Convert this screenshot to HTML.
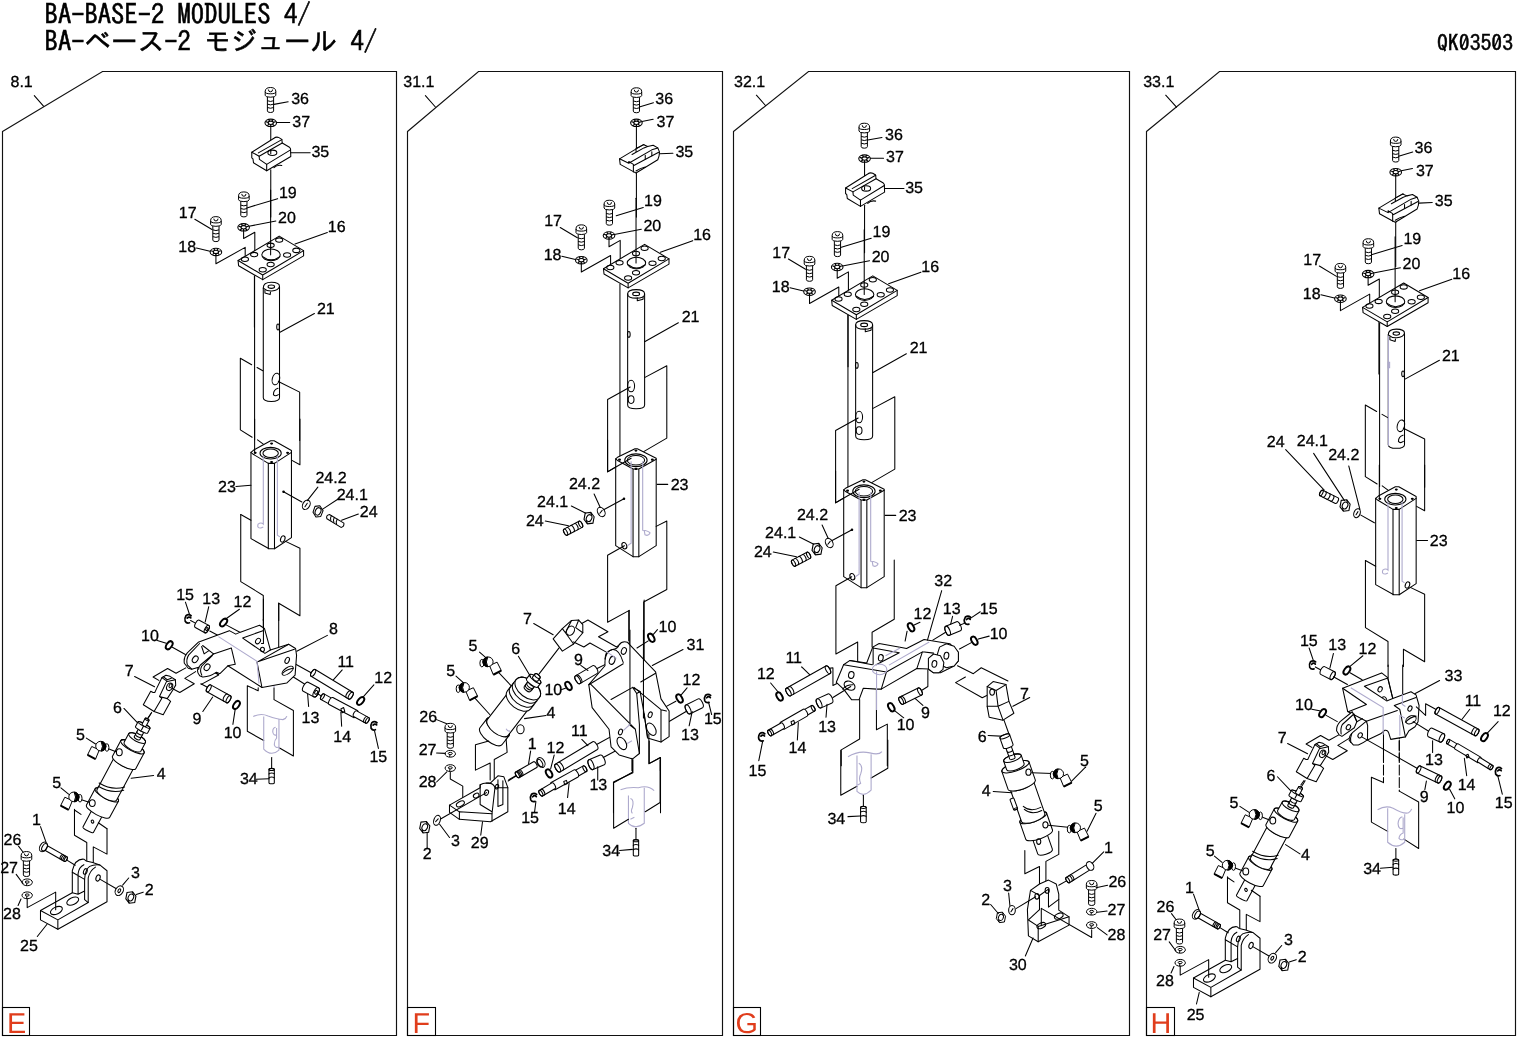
<!DOCTYPE html>
<html><head><meta charset="utf-8"><title>BA-BASE-2 MODULES 4/</title>
<style>
html,body{margin:0;padding:0;background:#fff;}
body{width:1517px;height:1037px;overflow:hidden;position:relative;}
svg{position:absolute;left:0;top:0;will-change:transform;}
.hd{font-family:"IPAGothic","Liberation Mono","Noto Sans CJK JP",monospace;fill:#000;stroke:#000;stroke-width:0.55px;}
.lb{font-family:"Liberation Sans",Arial,sans-serif;font-size:16px;fill:#000;stroke:#000;stroke-width:0.3px;text-rendering:geometricPrecision;}
.lt{font-family:"Liberation Sans",Arial,sans-serif;font-size:28.8px;fill:#e03d1c;text-rendering:geometricPrecision;}
.ln{fill:none;stroke:#000;stroke-width:1.05;stroke-linejoin:round;stroke-linecap:round;}
.z{vector-effect:non-scaling-stroke;}
.pu{fill:none;stroke:#aeaacd;stroke-width:1.1;}
</style></head>
<body>
<svg width="1517" height="1037" viewBox="0 0 1517 1037">

<defs>
<g id="screw" fill="none" stroke="#000" stroke-width="1">
 <path d="M-3.1,9 L-3.1,23 Q-3.1,24.6 0,24.6 Q3.1,24.6 3.1,23 L3.1,9" fill="#fff"/>
 <path d="M-3.1,12.8 Q0,14.3 3.1,12.8 M-3.1,16.2 Q0,17.7 3.1,16.2 M-3.1,19.6 Q0,21.1 3.1,19.6"/>
 <path d="M-5.3,3.6 Q-5.3,-0.4 0,-0.4 Q5.3,-0.4 5.3,3.6 L5.3,7.4 Q5.3,9.3 0,9.3 Q-5.3,9.3 -5.3,7.4 Z" fill="#fff"/>
 <path d="M-5.3,3.8 Q-5.3,5.9 0,5.9 Q5.3,5.9 5.3,3.8"/>
 <path d="M-2.1,1.6 Q-2.1,3.9 0,3.9 Q2.1,3.9 2.1,1.6"/>
</g>
<g id="wash" fill="none" stroke="#000" stroke-width="1.1">
 <ellipse rx="5.8" ry="3.7" fill="#fff"/>
 <ellipse rx="2.6" ry="1.7"/>
 <path d="M-5,-1.2 L-2.4,-0.4 M5,-1.2 L2.4,-0.4 M-2.2,-3.4 L-1,-1.5 M2.2,-3.4 L1,-1.5 M-3.4,2.7 L-1.7,1.2 M3.4,2.7 L1.7,1.2 M0,3.6 L0,1.8"/>
</g>

<g id="eclip" fill="none" stroke="#000" stroke-width="1.7" stroke-linecap="round">
 <path d="M3.1,-3.2 Q0.6,-5.3 -2,-3.3 Q-3.8,-0.6 -2.8,2.3 Q-1.3,4.8 1.5,3.8 M-0.8,-0.8 Q1,-2.8 2.8,-1"/>
</g>
<g id="ring" fill="none" stroke="#000" stroke-width="2">
 <ellipse rx="2.6" ry="4.5"/>
</g>
<g id="hexnut" fill="#fff" stroke="#000" stroke-width="1">
 <path d="M-3.5,-4.6 L1.5,-5.2 L4.6,-1.2 L3.5,4.6 L-1.5,5.2 L-4.6,1.2 Z"/>
 <ellipse rx="2.4" ry="3.2" transform="rotate(25)"/>
 <path d="M-1.5,5.2 L-2.4,2.6 M1.5,-5.2 L2.2,-2.8" fill="none"/>
</g>
<g id="wash2" fill="none" stroke="#000" stroke-width="1">
 <ellipse rx="5.2" ry="3.4" fill="#fff"/>
 <ellipse cx="0" cy="-0.3" rx="2" ry="1.1"/>
 <path d="M-0.3,0.8 L-0.6,3.2"/>
</g>
<g id="elbow" fill="#fff" stroke="#000" stroke-width="1">
 <path d="M-9.8,0.2 L-2.2,3.6 L-6,12.8 L-14,8.6 Z"/>
 <path d="M-14,8.6 L-6,12.8" stroke-width="2"/>
 <ellipse cx="5.4" cy="1.2" rx="2" ry="3.8"/>
 <ellipse cx="-0.8" cy="-0.2" rx="5" ry="4.8"/>
 <path d="M-0.5,-4.9 Q3.8,-4.6 4.6,0 Q3.8,4.6 -0.5,4.9 Q2.4,0 -0.5,-4.9 Z" fill="#000"/>
</g>
</defs>

<!-- header -->
<text class="hd" x="44.6" y="23.7" font-size="26.6">BA-BASE-2 MODULES 4/</text>
<text class="hd" x="44.6" y="51.1" font-size="26.6">BA-ベース-2 モジュール 4/</text>
<text class="hd" x="1513" y="51" font-size="21.7" text-anchor="end">QK03503</text>

<!-- panel borders -->
<g fill="none" stroke="#111" stroke-width="1.15">
<path d="M2.5 131.5 L102.5 71.5 H396.5 V1035.5 H2.5 Z"/>
<path d="M407.5 131.5 L478.5 71.5 H722.5 V1035.5 H407.5 Z"/>
<path d="M733.5 131.5 L808.5 71.5 H1129.5 V1035.5 H733.5 Z"/>
<path d="M1146.5 131.5 L1219.5 71.5 H1515.5 V1035.5 H1146.5 Z"/>
</g>
<!-- letter boxes -->
<g fill="none" stroke="#000" stroke-width="1.1">
<rect x="2.5" y="1007.5" width="27" height="28"/>
<rect x="407.5" y="1007.5" width="28" height="28"/>
<rect x="733.5" y="1007.5" width="27" height="28"/>
<rect x="1146.5" y="1007.5" width="28" height="28"/>
</g>
<text class="lt" x="7" y="1033">E</text>
<text class="lt" x="412.5" y="1033">F</text>
<text class="lt" x="735.5" y="1033">G</text>
<text class="lt" x="1150.5" y="1033">H</text>

<!-- panel reference labels -->
<text class="lb" x="10.5" y="87">8.1</text>
<text class="lb" x="403.3" y="87">31.1</text>
<text class="lb" x="734" y="87.3">32.1</text>
<text class="lb" x="1143.2" y="87.3">33.1</text>
<path class="ln" d="M34.3 95.6 L43.5 106.1 M425.4 95.6 L435.4 107 M756.4 95.2 L765.5 105.5 M1165.7 95.2 L1176.5 107.1"/>

<use href="#screw" transform="translate(270.5 87.91)"/>
<text class="lb" x="291.23" y="104.03">36</text>
<path class="ln" d="M 273.93,104.39 L 288.17,101.75"/>
<use href="#wash" transform="translate(270.76 122.85)"/>
<text class="lb" x="292.28" y="126.71">37</text>
<path class="ln" d="M 276.83,122.45 L 289.75,122.45"/>
<path class="ln" d="M 270.76,126.14 L 270.76,153.83"/>
<path class="ln" style="fill:#fff" d="M 251.78,152.25 L 273.93,138.27 Q 276.3,136.43 278.94,137.61 L 281.84,139.33 L 282.23,143.02 L 289.49,147.24 L 290.54,148.82 L 290.8,156.47 L 266.68,170.71 L 253.49,162.79 L 252.97,158.84 L 251.78,157.79 Z"/>
<path class="ln" d="M 251.78,152.25 L 259.16,156.2 L 259.43,159.37 L 266.68,164.38 L 290.54,149.87"/>
<path class="ln" d="M 259.16,156.2 L 282.23,143.02 M 258.37,152.91 L 281.84,139.59 M 266.68,164.38 L 266.68,170.71"/>
<ellipse class="ln" cx="272.35" cy="152.78" rx="4.48" ry="2.64"/>
<path class="ln" d="M 270.76,151.19 L 270.76,153.83"/>
<path class="ln" d="M 273.93,167.67 Q 277.22,164.38 281.84,165.43"/>
<text class="lb" x="311.4" y="157.43">35</text>
<path class="ln" d="M 290.8,152.78 L 310.18,152.78"/>
<path class="ln" d="M 270.76,169.65 L 270.76,217.11"/>
<use href="#screw" transform="translate(215.92 217.03)"/>
<text class="lb" x="178.77" y="217.99">17</text>
<path class="ln" d="M 194.83,219.27 L 211.96,229.55"/>
<use href="#wash" transform="translate(215.92 251.96)"/>
<text class="lb" x="178.24" y="252">18</text>
<path class="ln" d="M 196.41,248.01 L 209.99,251.31"/>
<path class="ln" d="M 215.92,254.86 L 215.92,263.83 L 245.19,247.35 L 245.19,258.56"/>
<use href="#wash" transform="translate(243.61 227.31)"/>
<text class="lb" x="278.04" y="222.6">20</text>
<path class="ln" d="M 248.88,226.26 L 275.91,220.98"/>
<path class="ln" d="M 243.61,230.21 L 243.61,238.52 L 254.81,232.19 L 254.81,253.02"/>
<path class="ln" style="fill:#fff" d="M 238.07,260.53 L 279.2,236.14 L 303.59,250.65 L 303.59,255.92 L 262.72,279.65 L 238.6,265.81 Z"/>
<path class="ln" d="M 238.07,260.53 L 262.72,275.04 L 303.59,250.65 M 262.72,275.04 L 262.72,279.65"/>
<ellipse class="ln" cx="244.92" cy="259.22" rx="3.56" ry="2.24"/>
<ellipse class="ln" cx="254.15" cy="254.6" rx="3.56" ry="2.24"/>
<ellipse class="ln" cx="270.63" cy="245.37" rx="3.56" ry="2.24"/>
<ellipse class="ln" cx="279.2" cy="240.1" rx="3.56" ry="2.24"/>
<ellipse class="ln" cx="296.34" cy="250.38" rx="3.56" ry="2.24"/>
<ellipse class="ln" cx="287.11" cy="255" rx="3.56" ry="2.24"/>
<ellipse class="ln" cx="270.63" cy="264.49" rx="3.56" ry="2.24"/>
<ellipse class="ln" cx="262.72" cy="269.76" rx="3.56" ry="2.24"/>
<ellipse class="ln" cx="271.03" cy="254.86" rx="9.23" ry="5.8"/>
<path class="ln" d="M 262.72,256.58 Q 271.03,263.17 279.86,256.58"/>
<path class="ln" d="M 270.63,190 L 270.63,254.86"/>
<text class="lb" x="327.75" y="231.83">16</text>
<path class="ln" d="M 295.02,244.05 L 327.32,232.45"/>
<use href="#screw" transform="translate(243.87 192.32)"/>
<text class="lb" x="278.97" y="197.63">19</text>
<path class="ln" d="M 246.9,207.88 L 277.62,198.65"/>
<path class="ln" d="M 254.42,275.7 L 254.42,327.11"/>
<path class="ln" d="M 254.59,276.56 L 254.59,439.67"/>
<path class="ln" style="fill:#fff" d="M 263.28,288.03 Q 263.28,282.3 271.31,282.3 Q 279.51,282.3 279.51,286.39 L 279.51,397.87 Q 279.51,401.48 271.31,401.48 Q 263.28,401.48 263.28,397.87 Z"/>
<ellipse class="ln" cx="271.31" cy="286.72" rx="3.28" ry="1.64"/>
<path class="ln" d="M 263.28,288.03 Q 266.89,291.31 271.8,290.98 Q 278.36,290.49 279.51,286.39"/>
<path class="ln" d="M 264.92,290 L 264.92,292.95 L 270.16,294.59 L 270.49,292.13"/>
<ellipse class="ln" cx="278.03" cy="327.05" rx="1.31" ry="2.95"/>
<ellipse class="ln" cx="275.9" cy="379.02" rx="3.61" ry="5.9" transform="rotate(15 275.9 379.02)"/>
<path class="ln" d="M 278.03,388.36 Q 273.44,389.67 273.44,394.59 Q 275.08,397.05 278.36,394.59"/>
<text class="lb" x="316.88" y="314.23">21</text>
<path class="ln" d="M 280,332.3 L 314.43,313.44"/>
<path class="ln" d="M 251.64,364.75 L 240.33,358.2 L 240.33,429.84 L 252.13,437.21"/>
<path class="ln" d="M 257.05,367.54 L 262.79,370.82"/>
<path class="ln" d="M 278.36,381.48 L 299.67,392.13 L 299.67,440.49"/>
<path class="ln" d="M 257.52,439.86 L 263.3,444.1"/>
<path class="ln" d="M 299.94,419.04 L 299.94,464.74 L 291.45,460.11"/>
<path class="ln" style="fill:#fff" d="M 250.96,452.39 L 253.66,450.08 L 270.63,440.83 L 274.1,440.83 L 291.45,450.47 L 291.45,537.62 L 274.49,548.81 L 269.09,548.81 L 250.96,538.59 Z"/>
<path class="ln" d="M 250.96,452.39 L 253.27,454.32 L 268.31,463.39 L 274.49,463.39 L 291.45,452.39"/>
<path class="ln" d="M 268.31,463.39 L 268.31,548.81 M 274.49,463.39 L 274.49,548.81"/>
<ellipse class="ln" cx="270.63" cy="453.17" rx="10.61" ry="5.78"/>
<ellipse class="ln" cx="270.63" cy="453.17" rx="7.71" ry="4.24"/>
<ellipse class="ln" style="fill:#000" cx="255.2" cy="452.78" rx="0.96" ry="0.58"/>
<ellipse class="ln" style="fill:#000" cx="271.59" cy="443.52" rx="0.96" ry="0.58"/>
<ellipse class="ln" style="fill:#000" cx="287.6" cy="452.78" rx="0.96" ry="0.58"/>
<ellipse class="ln" style="fill:#000" cx="271.59" cy="462.04" rx="0.96" ry="0.58"/>
<ellipse class="ln" cx="282.78" cy="538.97" rx="2.12" ry="3.28" transform="rotate(20 282.78 538.97)"/>
<path class="pu" d="M 263.3,455.67 L 263.3,524.13 Q 260.99,521.81 258.09,524.13 Q 256.75,528.37 260.99,527.98 L 263.3,527.02"/>
<path class="pu" d="M 277.38,455.67 L 277.38,535.31 L 279.88,536.85"/>
<path class="ln" d="M 254.62,419.04 L 254.62,452.78"/>
<path class="ln" d="M 240.74,514.49 L 250.96,520.27"/>
<path class="ln" d="M 240.74,514.49 L 240.74,581.59 L 263.3,595.47 L 263.3,620.54"/>
<path class="ln" d="M 285.09,541.1 L 299.94,548.23 L 299.94,615.72 L 278.73,603.19 L 278.73,620.54"/>
<text class="lb" x="218.07" y="492.03">23</text>
<path class="ln" d="M 235.92,486.53 L 250.96,485.18"/>
<ellipse class="ln" style="fill:#000" cx="283.55" cy="491.73" rx="0.77" ry="0.77"/>
<path class="ln" d="M 283.55,491.73 L 301.87,501.95"/>
<ellipse class="ln" cx="306.3" cy="504.84" rx="3.47" ry="5.01" transform="rotate(30 306.3 504.84)"/>
<path class="ln" d="M 304.95,506.77 L 307.27,503.3"/>
<text class="lb" x="315.44" y="482.97">24.2</text>
<path class="ln" d="M 307.27,500.6 L 317.87,487.1"/>
<path class="ln" style="fill:#fff" d="M 314.98,506.39 L 319.8,505.81 L 323.08,510.63 L 320.76,516.41 L 315.94,516.99 L 313.05,512.17 Z"/>
<ellipse class="ln" cx="318.06" cy="511.4" rx="2.7" ry="3.86" transform="rotate(25 318.06 511.4)"/>
<text class="lb" x="336.65" y="499.94">24.1</text>
<path class="ln" d="M 322.69,509.09 L 338.12,499.06"/>
<path class="ln" style="fill:#fff" d="M 329.44,514.49 L 343.9,523.16 Q 344.29,527.02 341.01,527.4 L 326.93,518.73 Q 325.58,515.45 329.44,514.49 Z"/>
<path class="ln" d="M 331.37,515.64 Q 329.83,518.34 330.79,520.27 M 334.26,517.38 Q 332.72,520.27 333.88,522.2 M 337.15,519.31 Q 335.61,522.2 336.58,524.13"/>
<text class="lb" x="359.79" y="516.71">24</text>
<path class="ln" d="M 341.59,520.27 L 358.36,514.1"/>
<path class="ln" d="M 263.34,619.55 L 263.34,631.02"/>
<path class="ln" d="M 278.7,603.14 L 278.7,648.22"/>
<path class="ln" d="M 258.2,687.77 L 258.2,690.74 L 247.32,685.79 L 247.32,731.28 L 263.73,740.57"/>
<path class="ln" d="M 274.02,687.77 L 274.02,699.64 L 293.4,710.51 L 293.4,755.99 L 279.55,748.08"/>
<path class="pu" d="M 253.25,716.44 Q 261.16,712.89 268.08,716.05 Q 276.98,719.41 282.91,719.61 Q 286.28,718.42 286.87,716.05 M 263.73,716.44 L 263.73,749.07 Q 271.25,756.98 278.96,750.06 L 278.96,719.61"/>
<path class="pu" d="M 275.6,727.32 Q 272.43,727.91 272.83,732.26 Q 273.62,736.22 276.98,734.64 M 276.59,727.91 L 276.59,738.2 Q 274.02,740.57 274.41,745.12 Q 275.6,748.48 278.96,747.1 M 218.65,635.37 L 258.2,661.08 M 274.02,668.99 L 274.02,687.77 M 274.02,668.99 L 278.96,672.94"/>
<path class="ln" d="M 271.64,757.58 L 271.64,768.85"/>
<path class="ln" style="fill:#fff" d="M268.97,769.44 L268.97,782.69 A1.07,2.67 90 0 0 274.31,782.69 L274.31,769.44 A1.07,2.67 90 0 0 268.97,769.44 Z"/>
<ellipse class="ln" cx="271.64" cy="769.44" rx="1.07" ry="2.67" transform="rotate(90 271.64 769.44)"/>
<path class="ln" d="M268.97,774.08 A1.07,2.67 90 0 1 274.31,774.08"/>
<path class="ln" d="M268.97,778.05 A1.07,2.67 90 0 1 274.31,778.05"/>
<text class="lb" x="239.9" y="783.98">34</text>
<path class="ln" d="M 256.22,779.33 L 269.07,778.73"/>
<use href="#eclip" transform="translate(188 618.96)"/>
<text class="lb" x="176.23" y="600.07">15</text>
<path class="ln" d="M 185.43,602.15 L 189.38,614.01"/>
<path class="ln" d="M 190.57,620.54 L 196.9,623.9"/>
<path class="ln" style="fill:#fff" d="M195.31,627.55 L204.8,632.69 A1.87,4.15 28.44 0 0 208.76,625.39 L199.27,620.25 A1.87,4.15 28.44 0 0 195.31,627.55 Z"/>
<ellipse class="ln" cx="206.78" cy="629.04" rx="1.87" ry="4.15" transform="rotate(28.44 206.78 629.04)"/>
<ellipse class="ln" cx="206.78" cy="629.04" rx="0.99" ry="1.58" transform="rotate(30 206.78 629.04)"/>
<text class="lb" x="202.33" y="603.63">13</text>
<path class="ln" d="M 208.76,606.7 L 205.2,621.92"/>
<path class="ln" d="M 209.75,631.02 L 221.02,636.95"/>
<use href="#ring" transform="translate(223.59 622.52) rotate(40)"/>
<text class="lb" x="233.57" y="606.6">12</text>
<path class="ln" d="M 239.41,609.27 L 224.98,619.55"/>
<path class="ln" d="M 226.56,625.09 L 240.79,632.8"/>
<use href="#ring" transform="translate(169.21 645.26) rotate(35)"/>
<text class="lb" x="141.03" y="640.61">10</text>
<path class="ln" d="M 157.35,640.51 L 166.24,643.28"/>
<path class="ln" d="M 172.37,647.23 L 185.43,654.55"/>
<text class="lb" x="328.89" y="634.09">8</text>
<path class="ln" d="M 296.76,651.19 L 327.41,635.37"/>
<path class="ln" d="M 289.44,660.68 L 311.59,672.94"/>
<path class="ln" style="fill:#fff" d="M311.12,676.32 L348.69,699.06 A1.78,3.95 31.18 0 0 352.79,692.3 L315.22,669.56 A1.78,3.95 31.18 0 0 311.12,676.32 Z"/>
<ellipse class="ln" cx="350.74" cy="695.68" rx="1.78" ry="3.95" transform="rotate(31.18 350.74 695.68)"/>
<ellipse class="ln" cx="313.17" cy="672.94" rx="1.78" ry="3.95" transform="rotate(31.18 313.17 672.94)"/>
<path class="ln" d="M346.44,697.7 A1.78,3.95 31.18 0 1 350.54,690.93"/>
<text class="lb" x="337.39" y="667.31">11</text>
<path class="ln" d="M 342.24,669.97 L 333.34,679.86"/>
<use href="#ring" transform="translate(360.63 701.02) rotate(40)"/>
<text class="lb" x="374.37" y="683.13">12</text>
<path class="ln" d="M 373.88,684.81 L 363,697.07"/>
<path class="ln" d="M 289.44,674.52 L 305.66,684.81"/>
<path class="ln" style="fill:#fff" d="M303.25,691.33 L313.73,696.87 A2.31,5.14 27.85 0 0 318.54,687.77 L308.06,682.24 A2.31,5.14 27.85 0 0 303.25,691.33 Z"/>
<ellipse class="ln" cx="316.14" cy="692.32" rx="2.31" ry="5.14" transform="rotate(27.85 316.14 692.32)"/>
<ellipse class="ln" cx="316.14" cy="692.32" rx="1.38" ry="1.98" transform="rotate(30 316.14 692.32)"/>
<text class="lb" x="301.6" y="723.07">13</text>
<path class="ln" d="M 307.63,694.3 L 308.62,706.56"/>
<path class="ln" d="M 317.52,693.7 L 322.46,696.67"/>
<path class="ln" style="fill:#fff" d="M320.93,699.44 L329.83,704.38 A1.42,3.16 29.05 0 0 332.9,698.85 L324,693.9 A1.42,3.16 29.05 0 0 320.93,699.44 Z"/>
<ellipse class="ln" cx="322.46" cy="696.67" rx="1.42" ry="3.16" transform="rotate(29.05 322.46 696.67)"/>
<path class="ln" style="fill:#fff" d="M329.11,704.51 L353.63,717.56 A1.78,3.95 28.02 0 0 357.35,710.58 L332.83,697.53 A1.78,3.95 28.02 0 0 329.11,704.51 Z"/>
<path class="ln" style="fill:#fff" d="M353.57,716.45 L365.83,723.17 A1.42,3.16 28.74 0 0 368.87,717.63 L356.61,710.9 A1.42,3.16 28.74 0 0 353.57,716.45 Z"/>
<ellipse class="ln" cx="367.35" cy="720.4" rx="1.42" ry="3.16" transform="rotate(28.74 367.35 720.4)"/>
<path class="ln" d="M363.99,722.17 A1.42,3.16 28.74 0 1 367.03,716.62"/>
<path class="ln" d="M 340.85,708.93 L 343.62,707.55 L 344.81,711.5 L 342.04,712.89 Z"/>
<text class="lb" x="333.24" y="742.45">14</text>
<path class="ln" d="M 341.65,726.33 L 340.85,712.09"/>
<use href="#eclip" transform="translate(373.88 725.94)"/>
<text class="lb" x="369.42" y="761.83">15</text>
<path class="ln" d="M 378.43,748.48 L 374.47,730.68"/>
<path class="ln" d="M 210.74,670.57 L 218.65,674.52 M 200.85,683.82 L 208.36,687.77"/>
<path class="ln" style="fill:#fff" d="M206.85,691.83 L226.63,702.71 A1.78,3.95 28.81 0 0 230.44,695.78 L210.67,684.9 A1.78,3.95 28.81 0 0 206.85,691.83 Z"/>
<ellipse class="ln" cx="228.53" cy="699.24" rx="1.78" ry="3.95" transform="rotate(28.81 228.53 699.24)"/>
<ellipse class="ln" cx="208.76" cy="688.36" rx="1.78" ry="3.95" transform="rotate(28.81 208.76 688.36)"/>
<path class="ln" d="M223.66,701.07 A1.78,3.95 28.81 0 1 227.47,694.14"/>
<text class="lb" x="192.44" y="724.26">9</text>
<path class="ln" d="M 202.83,711.5 L 212.72,697.07"/>
<use href="#ring" transform="translate(236.44 704.98) rotate(35)"/>
<text class="lb" x="223.68" y="737.51">10</text>
<path class="ln" d="M 232.89,724.35 L 235.06,710.12"/>
<path class="ln" d="M 201.25,684.41 L 218.65,674.92 L 215.68,672.94"/>
<path class="ln" style="fill:#fff" d="M 143.3,704.69 L 150.72,691.19 L 153.09,692.54 L 154.77,692.54 L 156.8,688.15 L 161.86,677.68 L 165.91,675.32 L 169.97,676.33 L 175.37,679.71 L 175.71,685.11 L 173.34,689.16 L 167.27,698.62 L 170.64,701.32 L 163.21,714.82 L 154.1,711.44 Z"/>
<path class="ln" d="M 159.5,696.59 L 167.27,698.62 M 159.5,696.59 L 166.59,681.4 M 154.1,711.44 L 161.86,698.28 L 159.5,696.59 M 161.86,677.68 L 167.27,681.4 L 175.37,679.71 M 163.21,676.67 L 167.27,679.71 L 171.32,678.36"/>
<ellipse class="ln" cx="169.63" cy="686.8" rx="2.84" ry="3.92" transform="rotate(25 169.63 686.8)"/>
<ellipse class="ln" cx="170.51" cy="685.79" rx="1.35" ry="2.03" transform="rotate(25 170.51 685.79)"/>
<path class="ln" d="M 158.83,680.38 L 153.09,677.01 L 167.6,668.57 L 176.04,673.3 L 185.83,667.89"/>
<path class="ln" d="M 195.62,671.61 L 184.82,678.36 L 194.27,683.76 L 179.76,692.54 L 172.33,688.49"/>
<text class="lb" x="124.81" y="676.21">7</text>
<path class="ln" d="M 134.61,676.5 L 154.58,686.78"/>
<path class="ln" d="M 151.02,713.48 L 147.85,718.03"/>
<path class="ln" style="fill:#fff" d="M 198.18,642.32 L 229.33,630.65 L 235.76,634.11 L 240.4,632.14 L 259.49,625.22 L 264.43,628.48 L 270.37,649.94 L 288.66,644.2 L 295.58,648.45 L 296.57,655.37 L 295.09,675.15 L 286.68,683.06 L 261.96,687.51 L 227.85,665.76 L 219.94,673.67 L 216.47,672.18 Q 209.55,677.13 202.63,676.93 L 199.66,675.65 Q 195.91,671.2 198.68,667.24 L 191.75,669.22 L 188.29,668.23 L 184.34,663.28 Q 183.35,657.35 187.3,652.9 Z"/>
<path class="ln" d="M 242.68,638.07 L 262.95,630.65 M 242.68,638.07 L 264.93,653.4 L 270.37,649.94"/>
<path class="ln" d="M 257.02,662.1 L 288.66,644.2 M 257.02,662.1 L 261.96,687.51 M 258.5,661.5 L 294.39,649.24"/>
<ellipse class="ln" cx="258.01" cy="641.04" rx="2.18" ry="2.97" transform="rotate(35 258.01 641.04)"/>
<ellipse class="ln" cx="262.46" cy="649.44" rx="1.98" ry="2.18"/>
<ellipse class="ln" cx="287.18" cy="660.32" rx="1.98" ry="3.26" transform="rotate(25 287.18 660.32)"/>
<ellipse class="ln" cx="287.67" cy="670.7" rx="6.53" ry="2.97" transform="rotate(-35 287.67 670.7)"/>
<path class="ln" d="M 282.73,673.17 Q 286.68,669.22 293.11,668.23"/>
<path class="ln" d="M 213.51,653.89 L 231.31,647.96 L 235.26,664.27 L 227.85,665.76 M 199.66,643.51 L 188.79,654.88 Q 185.82,659.33 187.3,664.77 L 191.75,669.22"/>
<path class="ln" d="M 213.51,653.89 L 200.16,665.26 Q 198.68,667.24 198.68,669.22 M 212.52,655.37 L 201.64,666.25 Q 199.47,670.7 201.84,675.15"/>
<path class="ln" d="M 201.64,646.47 L 204.11,653.89 L 208.56,650.92 M 202.63,645.49 L 213.51,653.89"/>
<ellipse class="ln" cx="195.22" cy="659.33" rx="2.57" ry="3.56" transform="rotate(35 195.22 659.33)"/>
<ellipse class="ln" cx="207.08" cy="667.24" rx="2.57" ry="3.56" transform="rotate(35 207.08 667.24)"/>
<path class="ln" d="M 263.44,599.01 L 263.44,643.51 L 261.47,643.51"/>
<path class="pu" d="M 218.45,636.59 L 257.02,661.31 L 258.99,683.56"/>
<path class="ln" d="M 151.62,712.41 L 145.49,722.41"/>
<path class="ln" style="fill:#fff" d="M93.41,832.52 L103.32,813.96 A1.19,5.93 -61.89 0 0 92.86,808.37 L82.94,826.93 A1.19,5.93 -61.89 0 0 93.41,832.52 Z"/>
<ellipse class="ln" cx="98.09" cy="811.16" rx="1.19" ry="5.93" transform="rotate(-61.89 98.09 811.16)"/>
<ellipse class="ln" cx="92.51" cy="821.6" rx="1.19" ry="1.58" transform="rotate(-30 92.51 821.6)"/>
<path class="ln" style="fill:#fff" d="M109.72,817.37 L118.39,801.13 A3.96,13.18 -61.89 0 0 95.13,788.71 L86.46,804.95 A3.96,13.18 -61.89 0 0 109.72,817.37 Z"/>
<ellipse class="ln" cx="106.76" cy="794.92" rx="3.96" ry="13.18" transform="rotate(-61.89 106.76 794.92)"/>
<path class="ln" style="fill:#fff" d="M116.53,800.13 L133.88,767.65 A3.88,11.07 -61.89 0 0 114.34,757.22 L96.99,789.7 A3.88,11.07 -61.89 0 0 116.53,800.13 Z"/>
<ellipse class="ln" cx="124.11" cy="762.43" rx="3.88" ry="11.07" transform="rotate(-61.89 124.11 762.43)"/>
<path class="ln" d="M 99.14,782.95 Q 112.06,790.86 124.59,786.9 M 98.22,786.24 Q 111.4,794.15 123.67,790.2"/>
<path class="ln" style="fill:#fff" d="M135.74,768.64 L144.11,752.98 A3.96,13.18 -61.89 0 0 120.85,740.56 L112.48,756.22 A3.96,13.18 -61.89 0 0 135.74,768.64 Z"/>
<ellipse class="ln" cx="132.48" cy="746.77" rx="3.96" ry="13.18" transform="rotate(-61.89 132.48 746.77)"/>
<path class="ln" style="fill:#fff" d="M140.85,751.24 L145.5,742.54 A3.32,9.49 -61.89 0 0 128.75,733.6 L124.11,742.3 A3.32,9.49 -61.89 0 0 140.85,751.24 Z"/>
<ellipse class="ln" cx="137.13" cy="738.07" rx="3.32" ry="9.49" transform="rotate(-61.89 137.13 738.07)"/>
<path class="ln" style="fill:#fff" d="M139.92,739.56 L144.25,731.44 A1.27,3.16 -61.89 0 0 138.67,728.46 L134.33,736.58 A1.27,3.16 -61.89 0 0 139.92,739.56 Z"/>
<ellipse class="ln" cx="141.46" cy="729.95" rx="1.27" ry="3.16" transform="rotate(-61.89 141.46 729.95)"/>
<path class="ln" d="M141.22,737.12 A1.27,3.16 -61.89 0 1 135.64,734.14"/>
<path class="ln" d="M142.52,734.69 A1.27,3.16 -61.89 0 1 136.94,731.71"/>
<path class="ln" style="fill:#fff" d="M147.51,733.18 L150.11,728.3 A1.23,6.86 -61.89 0 0 138.02,721.84 L135.42,726.72 A1.23,6.86 -61.89 0 0 147.51,733.18 Z"/>
<ellipse class="ln" cx="144.07" cy="725.07" rx="1.23" ry="6.86" transform="rotate(-61.89 144.07 725.07)"/>
<path class="ln" d="M 141.46,729.95 L 144.07,725.07"/>
<path class="ln" style="fill:#fff" d="M146.04,726.13 L149.02,720.56 A0.9,2.24 -61.89 0 0 145.06,718.45 L142.09,724.02 A0.9,2.24 -61.89 0 0 146.04,726.13 Z"/>
<ellipse class="ln" cx="147.04" cy="719.51" rx="0.9" ry="2.24" transform="rotate(-61.89 147.04 719.51)"/>
<ellipse class="ln" cx="119.31" cy="752.23" rx="2.9" ry="3.43"/>
<ellipse class="ln" cx="92.29" cy="803.12" rx="2.9" ry="3.43"/>
<path class="ln" d="M 116.02,751.7 L 108.37,748.67 M 89.12,802.33 L 81.48,799.69"/>
<use href="#elbow" transform="translate(101.52 746.3)"/>
<use href="#elbow" transform="translate(74.62 797.05)"/>
<text class="lb" x="112.88" y="712.98">6</text>
<path class="ln" d="M 123.93,708.46 L 137.11,722.3"/>
<text class="lb" x="75.97" y="739.74">5</text>
<path class="ln" d="M 86.35,738.12 L 95.58,744.05"/>
<text class="lb" x="52.24" y="787.86">5</text>
<path class="ln" d="M 60.91,787.82 L 68.56,794.15"/>
<text class="lb" x="156.65" y="779.29">4</text>
<path class="ln" d="M 153.59,775.43 L 131.18,778.33"/>
<path class="ln" d="M 74.48,809.28 L 74.48,835.31 L 86.77,842.54 L 86.77,870.74"/>
<path class="ln" d="M 107.01,828.8 L 107.01,854.11 L 93.28,846.88 L 93.28,864.95"/>
<path class="ln" d="M 74.48,810 L 80.98,814.34"/>
<path class="ln" d="M 98.34,822.73 L 107.01,828.8"/>
<path class="ln" style="fill:#fff" d="M 40.49,910.51 L 72.31,892.72 L 72.31,870.74 Q 75.2,858.45 83.88,859.17 L 86.04,860.9 Q 92.55,862.06 99.78,864.95 L 107.01,870.74 L 107.01,901.83 L 57.85,929.31 L 40.49,919.91 Z"/>
<path class="ln" d="M 40.49,910.51 L 57.85,919.91 L 57.85,929.31 M 57.85,919.91 L 88.21,902.55 L 84.6,899.66 L 84.6,879.41 Q 85.32,869.29 89.66,866.4 Q 94,864.23 99.78,864.95"/>
<path class="ln" d="M 84.6,879.41 L 72.31,872.18 M 72.31,892.72 L 78.09,894.16 L 84.6,890.98 M 88.21,902.55 L 88.21,877.97 Q 89.66,870.74 95.44,867.12 M 78.09,894.16 L 78.09,873.63 Q 78.81,867.12 83.88,864.66"/>
<ellipse class="ln" cx="56.4" cy="910.51" rx="6.36" ry="3.47" transform="rotate(-25 56.4 910.51)"/>
<ellipse class="ln" cx="72.74" cy="901.11" rx="6.36" ry="3.47" transform="rotate(-25 72.74 901.11)"/>
<ellipse class="ln" cx="85.32" cy="871.46" rx="1.74" ry="2.89" transform="rotate(20 85.32 871.46)"/>
<ellipse class="ln" cx="98.05" cy="877.97" rx="2.02" ry="3.18" transform="rotate(20 98.05 877.97)"/>
<path class="ln" style="fill:#fff" d="M43.55,849.58 L64.52,861.43 A1.17,2.6 29.49 0 0 67.08,856.9 L46.11,845.04 A1.17,2.6 29.49 0 0 43.55,849.58 Z"/>
<ellipse class="ln" cx="65.8" cy="859.17" rx="1.17" ry="2.6" transform="rotate(29.49 65.8 859.17)"/>
<path class="ln" d="M60.32,859.06 A1.17,2.6 29.49 0 1 62.89,854.53"/>
<path class="ln" d="M61.79,859.89 A1.17,2.6 29.49 0 1 64.35,855.36"/>
<path class="ln" d="M63.26,860.72 A1.17,2.6 29.49 0 1 65.82,856.19"/>
<ellipse class="ln" style="fill:#fff" cx="43.38" cy="846.88" rx="3.47" ry="5.21" transform="rotate(30 43.38 846.88)"/>
<ellipse class="ln" cx="44.54" cy="847.31" rx="2.31" ry="4.05" transform="rotate(30 44.54 847.31)"/>
<path class="ln" d="M 66.52,859.89 L 75.2,865.24"/>
<text class="lb" x="32.04" y="825.48">1</text>
<path class="ln" d="M 40.49,826.63 L 45.99,842.1"/>
<use href="#screw" transform="translate(26.46 851.94)"/>
<text class="lb" x="3.55" y="844.72">26</text>
<path class="ln" d="M 18.51,846.15 L 23.14,852.23"/>
<use href="#wash2" transform="translate(27.19 882.31)"/>
<use href="#wash2" transform="translate(27.19 895.32)"/>
<text class="lb" x="0.22" y="872.77">27</text>
<path class="ln" d="M 16.2,874.35 L 23.14,883.75"/>
<text class="lb" x="3.12" y="918.76">28</text>
<path class="ln" d="M 18.08,905.44 L 20.97,898.94"/>
<path class="ln" d="M 27.19,898.5 L 27.19,907.61 L 55.68,892.14 L 55.68,909.78"/>
<path class="ln" d="M 99.78,879.13 L 116.41,888.81"/>
<ellipse class="ln" style="fill:#fff" cx="119.31" cy="890.69" rx="3.76" ry="5.21" transform="rotate(30 119.31 890.69)"/>
<ellipse class="ln" cx="119.31" cy="890.69" rx="1.16" ry="2.02" transform="rotate(30 119.31 890.69)"/>
<text class="lb" x="131.1" y="877.55">3</text>
<path class="ln" d="M 128.71,877.97 L 122.63,885.2"/>
<use href="#hexnut" transform="translate(130.87 897.49) scale(1.1)"/>
<text class="lb" x="144.84" y="894.9">2</text>
<path class="ln" d="M 143.17,892.14 L 136.23,894.6"/>
<text class="lb" x="20.04" y="951.3">25</text>
<path class="ln" d="M 37.31,936.54 L 47,924.24"/>
<use href="#screw" transform="translate(636.41 88.17)"/>
<text class="lb" x="655.29" y="104.03">36</text>
<path class="ln" d="M 639.31,107.03 L 653.42,102.68"/>
<use href="#wash" transform="translate(636.41 122.85)"/>
<text class="lb" x="656.61" y="127.1">37</text>
<path class="ln" d="M 641.95,121.53 L 653.16,119.29"/>
<path class="ln" d="M 636.41,125.48 L 636.41,151.85"/>
<path class="ln" style="fill:#fff" d="M 619.54,158.84 L 643.27,144.6 L 647.62,146.58 L 653.16,145.26 L 657.77,147.9 L 659.49,151.85 L 659.09,155.81 L 657.77,159.76 L 636.02,172.95 L 633.38,171.63 L 620.2,164.38 Z"/>
<path class="ln" d="M 619.54,158.84 L 628.77,163.32 L 651.84,149.87 L 657.77,147.9 M 628.77,163.32 L 628.77,161.48 L 633.38,164.38 L 633.38,172.02 M 633.38,165.7 L 658.69,152.25"/>
<path class="ln" d="M 632.06,154.49 L 643.93,147.9 L 647.62,146.58 M 636.02,151.85 L 636.02,148.56 L 643.93,144.6 M 645.25,159.1 L 645.25,155.15 M 651.84,155.81 L 651.84,151.85"/>
<path class="ln" d="M 636.02,170.97 Q 639.97,168.33 645.25,167.01"/>
<text class="lb" x="675.47" y="156.5">35</text>
<path class="ln" d="M 659.75,153.83 L 672.93,153.17"/>
<path class="ln" d="M 636.41,172.95 L 636.41,217.11"/>
<use href="#screw" transform="translate(609.39 200.63)"/>
<text class="lb" x="644.09" y="206.21">19</text>
<path class="ln" d="M 616.24,215.79 L 643.27,207.62"/>
<use href="#screw" transform="translate(581.32 225.23)"/>
<text class="lb" x="544.17" y="226.19">17</text>
<path class="ln" d="M 560.23,227.47 L 577.36,237.75"/>
<use href="#wash" transform="translate(581.32 260.16)"/>
<text class="lb" x="543.64" y="260.2">18</text>
<path class="ln" d="M 561.81,256.21 L 575.39,259.51"/>
<path class="ln" d="M 581.32,263.06 L 581.32,272.03 L 610.59,255.55 L 610.59,266.76"/>
<use href="#wash" transform="translate(609.01 235.51)"/>
<text class="lb" x="643.44" y="230.8">20</text>
<path class="ln" d="M 614.28,234.46 L 641.31,229.18"/>
<path class="ln" d="M 609.01,238.41 L 609.01,246.72 L 620.21,240.39 L 620.21,261.22"/>
<path class="ln" style="fill:#fff" d="M 603.47,268.73 L 644.6,244.34 L 668.99,258.85 L 668.99,264.12 L 628.12,287.85 L 604,274.01 Z"/>
<path class="ln" d="M 603.47,268.73 L 628.12,283.24 L 668.99,258.85 M 628.12,283.24 L 628.12,287.85"/>
<ellipse class="ln" cx="610.32" cy="267.42" rx="3.56" ry="2.24"/>
<ellipse class="ln" cx="619.55" cy="262.8" rx="3.56" ry="2.24"/>
<ellipse class="ln" cx="636.03" cy="253.57" rx="3.56" ry="2.24"/>
<ellipse class="ln" cx="644.6" cy="248.3" rx="3.56" ry="2.24"/>
<ellipse class="ln" cx="661.74" cy="258.58" rx="3.56" ry="2.24"/>
<ellipse class="ln" cx="652.51" cy="263.2" rx="3.56" ry="2.24"/>
<ellipse class="ln" cx="636.03" cy="272.69" rx="3.56" ry="2.24"/>
<ellipse class="ln" cx="628.12" cy="277.96" rx="3.56" ry="2.24"/>
<ellipse class="ln" cx="636.43" cy="263.06" rx="9.23" ry="5.8"/>
<path class="ln" d="M 628.12,264.78 Q 636.43,271.37 645.26,264.78"/>
<text class="lb" x="693.15" y="240.03">16</text>
<path class="ln" d="M 660.42,252.25 L 692.72,240.65"/>
<path class="ln" d="M 636.03,198.2 L 636.03,263.06"/>
<path class="ln" d="M 619.94,284.05 L 619.94,460.29"/>
<path class="ln" style="fill:#fff" d="M 627.65,293.88 Q 627.65,289.64 636.14,289.64 Q 644.62,289.64 644.62,293.88 L 644.62,404.95 Q 644.62,408.81 636.14,408.81 Q 627.65,408.81 627.65,404.95 Z"/>
<path class="ln" d="M 627.65,293.88 Q 627.65,298.13 636.14,298.13 Q 644.62,298.13 644.62,293.88"/>
<ellipse class="ln" cx="636.14" cy="293.88" rx="3.47" ry="1.74"/>
<path class="ln" d="M 637.29,297.74 L 637.29,300.83 L 643.08,299.28 L 643.08,296.97"/>
<ellipse class="ln" cx="628.81" cy="334.38" rx="1.35" ry="2.89"/>
<ellipse class="ln" cx="631.12" cy="386.05" rx="3.47" ry="5.78"/>
<ellipse class="ln" cx="631.12" cy="399.55" rx="2.89" ry="3.86"/>
<text class="lb" x="681.72" y="321.76">21</text>
<path class="ln" d="M 644.62,341.7 L 678.36,322.81"/>
<path class="ln" d="M 630.16,387.02 L 607.6,399.55 L 607.6,471.86 L 629.19,458.94"/>
<path class="ln" d="M 645.01,377.38 L 666.8,365.81 L 666.8,438.12 L 643.66,451.62"/>
<path class="ln" style="fill:#fff" d="M 615.7,458.9 L 618.01,456.97 L 634.98,448.68 L 637.29,448.68 L 656.19,458.32 L 656.19,545.67 L 638.84,556.66 L 633.05,556.66 L 615.7,545.67 Z"/>
<path class="ln" d="M 615.7,458.9 L 618.01,460.83 L 633.05,468.92 L 638.84,468.92 L 656.19,459.28 M 633.05,468.92 L 633.05,556.66 M 638.84,468.92 L 638.84,556.66"/>
<ellipse class="ln" cx="635.94" cy="460.25" rx="11.18" ry="6.36"/>
<ellipse class="ln" cx="635.94" cy="460.25" rx="8.68" ry="4.82"/>
<ellipse class="ln" style="fill:#000" cx="619.55" cy="459.67" rx="0.96" ry="0.58"/>
<ellipse class="ln" style="fill:#000" cx="635.94" cy="450.61" rx="0.96" ry="0.58"/>
<ellipse class="ln" style="fill:#000" cx="652.33" cy="459.67" rx="0.96" ry="0.58"/>
<ellipse class="ln" style="fill:#000" cx="635.94" cy="468.92" rx="0.96" ry="0.58"/>
<ellipse class="ln" cx="624.37" cy="545.67" rx="2.31" ry="3.28" transform="rotate(-20 624.37 545.67)"/>
<path class="pu" d="M 631.12,461.21 L 631.12,543.16 L 627.27,545.67 M 642.69,461.21 L 642.69,530.24 Q 648.09,530.63 650.02,532.94 Q 648.48,536.41 645.01,534.87 L 644.23,530.63"/>
<text class="lb" x="670.73" y="490.05">23</text>
<path class="ln" d="M 657.15,484.35 L 667.76,484.35"/>
<ellipse class="ln" style="fill:#000" cx="623.99" cy="498.81" rx="0.77" ry="0.77"/>
<path class="ln" d="M 623.99,498.81 L 604.13,509.42"/>
<ellipse class="ln" style="fill:#fff" cx="601.23" cy="511.92" rx="3.47" ry="5.01" transform="rotate(-30 601.23 511.92)"/>
<path class="ln" d="M 599.88,513.27 L 602.2,510.38"/>
<text class="lb" x="568.92" y="488.89">24.2</text>
<path class="ln" d="M 594.1,493.99 L 600.27,507.49"/>
<use href="#hexnut" transform="translate(589.09 518.09) scale(1.1)"/>
<text class="lb" x="537.1" y="506.83">24.1</text>
<path class="ln" d="M 571.35,505.95 L 585.81,513.27"/>
<path class="ln" style="fill:#fff" d="M578.99,521.19 L563.95,529.1 A1.56,3.47 152.27 0 0 567.18,535.24 L582.22,527.34 A1.56,3.47 152.27 0 0 578.99,521.19 Z"/>
<ellipse class="ln" cx="565.56" cy="532.17" rx="1.56" ry="3.47" transform="rotate(152.27 565.56 532.17)"/>
<ellipse class="ln" cx="580.6" cy="524.27" rx="1.56" ry="3.47" transform="rotate(152.27 580.6 524.27)"/>
<path class="ln" d="M574.47,523.56 A1.56,3.47 152.27 0 1 577.7,529.71"/>
<path class="ln" d="M570.71,525.54 A1.56,3.47 152.27 0 1 573.94,531.69"/>
<path class="ln" d="M566.95,527.52 A1.56,3.47 152.27 0 1 570.18,533.66"/>
<text class="lb" x="525.92" y="525.53">24</text>
<path class="ln" d="M 545.31,520.99 L 568.45,525.81"/>
<path class="ln" d="M 607.6,440 L 607.6,471.82 L 631.12,458.32"/>
<path class="ln" d="M 624.37,545.67 L 607.6,555.31 L 607.6,622.22 L 628.81,610.65 L 628.81,640.54"/>
<path class="ln" d="M 656.19,526.39 L 666.8,520.99 L 666.8,589.44 L 643.66,601.97 L 643.66,640.54"/>
<path class="ln" d="M 629.22,610.22 L 629.22,720.65"/>
<path class="ln" d="M 644.15,600 L 644.15,689.98 M 644.15,714.52 L 644.15,718.61"/>
<path class="ln" style="fill:#fff" d="M 553.15,638.85 L 562.35,628.63 L 571.55,620.45 L 578.71,620.04 L 582.8,624.54 L 582.8,632.72 L 573.6,643.97 L 562.35,651.12 Z"/>
<path class="ln" d="M 562.35,628.63 L 565.42,632.72 L 573.6,643.97 M 565.42,632.72 L 571.55,620.45 M 578.71,620.04 L 575.64,627.61 L 582.8,632.72"/>
<ellipse class="ln" cx="570.53" cy="630.67" rx="3.68" ry="4.91" transform="rotate(30 570.53 630.67)"/>
<text class="lb" x="523" y="624.43">7</text>
<path class="ln" d="M 533.72,623.52 L 553.15,634.76"/>
<path class="ln" d="M 558.88,648.06 L 537.4,676.07"/>
<path class="ln" d="M 581.78,623.52 L 587.91,620.04 L 607.96,631.7 L 598.55,636.81 L 616.54,647.03 L 620.63,643.97"/>
<path class="ln" d="M 573.6,641.92 L 583.82,647.03 L 589.96,642.94 L 606.32,652.15"/>
<path class="ln" style="fill:#fff" d="M501.99,744.7 L508.85,735.81 A5.84,13.91 -52.33 0 0 486.84,718.81 L479.97,727.7 A5.84,13.91 -52.33 0 0 501.99,744.7 Z"/>
<ellipse class="ln" cx="497.84" cy="727.31" rx="5.84" ry="13.91" transform="rotate(-52.33 497.84 727.31)"/>
<path class="ln" style="fill:#fff" d="M508.2,735.31 L529.41,707.85 A6.54,13.09 -52.33 0 0 508.69,691.85 L487.48,719.31 A6.54,13.09 -52.33 0 0 508.2,735.31 Z"/>
<ellipse class="ln" cx="519.05" cy="699.85" rx="6.54" ry="13.09" transform="rotate(-52.33 519.05 699.85)"/>
<path class="ln" style="fill:#fff" d="M530.7,708.85 L539.44,697.54 A8.83,14.72 -52.33 0 0 516.13,679.54 L507.4,690.85 A8.83,14.72 -52.33 0 0 530.7,708.85 Z"/>
<ellipse class="ln" cx="527.78" cy="688.54" rx="8.83" ry="14.72" transform="rotate(-52.33 527.78 688.54)"/>
<path class="ln" d="M533.76,704.89 A8.83,14.72 -52.33 0 1 510.45,686.89"/>
<path class="ln" d="M536.82,700.93 A8.83,14.72 -52.33 0 1 513.51,682.93"/>
<path class="ln" style="fill:#fff" d="M531.02,691.04 L535.38,685.38 A2.45,4.09 -52.33 0 0 528.91,680.38 L524.54,686.04 A2.45,4.09 -52.33 0 0 531.02,691.04 Z"/>
<ellipse class="ln" cx="532.15" cy="682.88" rx="2.45" ry="4.09" transform="rotate(-52.33 532.15 682.88)"/>
<path class="ln" d="M532.33,689.34 A2.45,4.09 -52.33 0 1 525.85,684.34"/>
<path class="ln" d="M533.64,687.64 A2.45,4.09 -52.33 0 1 527.16,682.65"/>
<path class="ln" style="fill:#fff" d="M537.65,687.13 L540.77,683.09 A2.09,6.95 -52.33 0 0 529.76,674.6 L526.64,678.63 A2.09,6.95 -52.33 0 0 537.65,687.13 Z"/>
<ellipse class="ln" cx="535.27" cy="678.84" rx="2.09" ry="6.95" transform="rotate(-52.33 535.27 678.84)"/>
<path class="ln" style="fill:#fff" d="M537.86,680.84 L539.98,678.1 A1.64,3.27 -52.33 0 0 534.8,674.1 L532.68,676.84 A1.64,3.27 -52.33 0 0 537.86,680.84 Z"/>
<ellipse class="ln" cx="537.39" cy="676.1" rx="1.64" ry="3.27" transform="rotate(-52.33 537.39 676.1)"/>
<ellipse class="ln" style="fill:#fff" cx="520.43" cy="729.24" rx="3.68" ry="4.5"/>
<path class="pu" d="M 506.11,728.83 Q 507.75,731.9 510.2,730.88"/>
<text class="lb" x="511.14" y="654.49">6</text>
<path class="ln" d="M 518.38,656.24 L 530.65,676.69"/>
<text class="lb" x="546.51" y="717.89">4</text>
<path class="ln" d="M 545.99,715.54 L 524.52,718.61"/>
<path class="ln" d="M 495.48,669.12 L 511.23,685.89"/>
<use href="#elbow" transform="translate(487.3 661.96) scale(-1 1)"/>
<path class="ln" d="M 471.76,694.68 L 489.75,714.52"/>
<use href="#elbow" transform="translate(463.58 687.53) scale(-1 1)"/>
<text class="lb" x="468.4" y="651.42">5</text>
<path class="ln" d="M 479.53,652.15 L 486.69,658.28"/>
<text class="lb" x="446.31" y="675.56">5</text>
<path class="ln" d="M 456.01,676.07 L 462.76,682.21"/>
<path class="ln" d="M 488.73,741.1 L 475.44,744.79 L 475.44,770.14 L 490.16,762.99 L 490.16,779.96"/>
<path class="ln" d="M 506.11,739.06 L 507.14,752.35 L 494.25,759.51 L 494.25,782"/>
<use href="#screw" transform="translate(450.29 723.72)"/>
<text class="lb" x="419.32" y="721.98">26</text>
<path class="ln" d="M 436.58,719.63 L 446.81,723.72"/>
<use href="#wash2" transform="translate(450.29 753.78)"/>
<text class="lb" x="418.7" y="754.7">27</text>
<path class="ln" d="M 436.58,752.97 L 445.17,753.37"/>
<use href="#wash2" transform="translate(450.29 768.1)"/>
<text class="lb" x="418.7" y="787.42">28</text>
<path class="ln" d="M 436.58,782 L 446.81,771.78"/>
<path class="ln" d="M 450.29,772.19 L 450.29,778.94 L 462.76,786.09 L 462.76,802.45"/>
<path class="ln" style="fill:#fff" d="M533.52,761.78 L515.73,772.01 A1.47,3.27 150.11 0 0 518.99,777.68 L536.78,767.46 A1.47,3.27 150.11 0 0 533.52,761.78 Z"/>
<ellipse class="ln" cx="517.36" cy="774.85" rx="1.47" ry="3.27" transform="rotate(150.11 517.36 774.85)"/>
<path class="ln" d="M519.29,769.96 A1.47,3.27 150.11 0 1 522.55,775.64"/>
<path class="ln" d="M518.04,770.68 A1.47,3.27 150.11 0 1 521.31,776.35"/>
<path class="ln" d="M516.8,771.4 A1.47,3.27 150.11 0 1 520.06,777.07"/>
<ellipse class="ln" style="fill:#fff" cx="540.88" cy="762.58" rx="3.68" ry="5.32" transform="rotate(-30 540.88 762.58)"/>
<ellipse class="ln" cx="540.06" cy="762.99" rx="2.04" ry="4.09" transform="rotate(-30 540.06 762.99)"/>
<path class="ln" d="M 516.34,775.87 L 508.16,780.98"/>
<text class="lb" x="527.7" y="749.18">1</text>
<path class="ln" d="M 530.65,750.92 L 528.61,763.6"/>
<use href="#ring" transform="translate(549.06 773.42) rotate(-30)"/>
<text class="lb" x="546.51" y="753.27">12</text>
<path class="ln" d="M 554.17,755.01 L 550.7,768.71"/>
<path class="ln" style="fill:#fff" d="M592.75,741.75 L555.33,764.24 A2.02,4.5 148.99 0 0 559.97,771.95 L597.39,749.46 A2.02,4.5 148.99 0 0 592.75,741.75 Z"/>
<ellipse class="ln" cx="557.65" cy="768.1" rx="2.02" ry="4.5" transform="rotate(148.99 557.65 768.1)"/>
<path class="ln" d="M558.32,762.44 A2.02,4.5 148.99 0 1 562.96,770.15"/>
<text class="lb" x="571.05" y="736.29">11</text>
<path class="ln" d="M 581.78,739.47 L 587.91,745.6"/>
<path class="ln" d="M 597.12,744.17 L 619.61,731.9"/>
<path class="ln" style="fill:#fff" d="M600.18,755.01 L588.93,759.72 A2.39,5.32 157.31 0 0 593.03,769.53 L604.28,764.82 A2.39,5.32 157.31 0 0 600.18,755.01 Z"/>
<ellipse class="ln" cx="590.98" cy="764.62" rx="2.39" ry="5.32" transform="rotate(157.31 590.98 764.62)"/>
<text class="lb" x="589.46" y="790.08">13</text>
<path class="ln" d="M 597.73,779.96 L 597.73,766.67"/>
<path class="ln" d="M 603.25,757.46 L 618.59,749.28"/>
<path class="ln" style="fill:#fff" d="M583.26,765.85 L574.06,770.96 A1.47,3.27 150.95 0 0 577.23,776.68 L586.44,771.57 A1.47,3.27 150.95 0 0 583.26,765.85 Z"/>
<ellipse class="ln" cx="584.85" cy="768.71" rx="1.47" ry="3.27" transform="rotate(150.95 584.85 768.71)"/>
<path class="ln" style="fill:#fff" d="M574.07,769.84 L551.17,782.52 A1.84,4.09 151.03 0 0 555.13,789.67 L578.03,776.99 A1.84,4.09 151.03 0 0 574.07,769.84 Z"/>
<path class="ln" style="fill:#fff" d="M551.88,782.88 L539.2,790.44 A1.47,3.27 149.17 0 0 542.56,796.06 L555.24,788.49 A1.47,3.27 149.17 0 0 551.88,782.88 Z"/>
<ellipse class="ln" cx="540.88" cy="793.25" rx="1.47" ry="3.27" transform="rotate(149.17 540.88 793.25)"/>
<path class="ln" d="M541.1,789.31 A1.47,3.27 149.17 0 1 544.46,794.93"/>
<path class="ln" d="M 563.78,781.6 L 566.44,780.37 L 567.46,783.64 L 564.81,784.87 Z"/>
<path class="ln" style="fill:#fff" d="M592.79,665.65 L575.41,675.88 A2.02,4.5 149.53 0 0 579.97,683.63 L597.35,673.41 A2.02,4.5 149.53 0 0 592.79,665.65 Z"/>
<ellipse class="ln" cx="577.69" cy="679.75" rx="2.02" ry="4.5" transform="rotate(149.53 577.69 679.75)"/>
<path class="ln" d="M576.8,675.06 A2.02,4.5 149.53 0 1 581.36,682.81"/>
<text class="lb" x="574.12" y="665.33">9</text>
<path class="ln" d="M 580.76,665.44 L 587.91,670.55"/>
<path class="ln" d="M 597.12,668.51 L 611.43,661.35"/>
<use href="#ring" transform="translate(568.49 685.89) rotate(-30)"/>
<text class="lb" x="544.47" y="695.39">10</text>
<path class="ln" d="M 560.31,689.98 L 565.42,688.34"/>
<use href="#ring" transform="translate(651.31 637.83) rotate(-30)"/>
<text class="lb" x="658.58" y="632">10</text>
<path class="ln" d="M 657.44,629.65 L 653.35,634.36"/>
<path class="ln" d="M 636.99,648.06 L 648.24,640.9"/>
<text class="lb" x="686.6" y="649.79">31</text>
<path class="ln" d="M 683.01,649.49 L 652.33,665.44"/>
<use href="#ring" transform="translate(679.53 698.57) rotate(-30)"/>
<text class="lb" x="682.51" y="684.55">12</text>
<path class="ln" d="M 687.1,687.93 L 680.96,695.09"/>
<path class="ln" d="M 664.6,707.36 L 675.85,701.23"/>
<path class="ln" style="fill:#fff" d="M698.19,698.88 L685.92,705.02 A2.21,4.91 153.43 0 0 690.31,713.8 L702.58,707.66 A2.21,4.91 153.43 0 0 698.19,698.88 Z"/>
<ellipse class="ln" cx="688.12" cy="709.41" rx="2.21" ry="4.91" transform="rotate(153.43 688.12 709.41)"/>
<text class="lb" x="681.07" y="740.38">13</text>
<path class="ln" d="M 689.14,725.77 L 692.21,711.45"/>
<path class="ln" d="M 668.69,721.68 L 686.07,711.45"/>
<use href="#eclip" transform="translate(707.55 698.57)"/>
<text class="lb" x="703.98" y="724.02">15</text>
<path class="ln" d="M 711.64,714.52 L 708.57,702.25"/>
<path class="ln" d="M 649.26,741.1 L 649.26,763.6 L 660.51,757.46 L 660.51,812.68"/>
<path class="ln" d="M 613.48,812.68 L 613.48,782 L 632.9,772.8 L 632.9,759.51"/>
<path class="ln" style="fill:#fff" d="M 627.25,642.15 L 655.6,671.85 L 661,698.85 L 669.1,711 L 669.1,736.66 L 661,742.06 L 647.5,738.01 L 644.13,713.7 L 640.08,691.43 L 636.7,693.45 L 639.4,724.51 L 639.4,753.53 L 632.65,758.93 L 619.15,754.88 L 611.05,746.78 L 609.03,729.23 L 592.15,707.63 L 588.78,684.68 L 604.98,665.78 Q 604.3,651.6 612.4,649.58 Q 617.8,648.9 619.15,644.85 Q 621.85,640.8 627.25,642.15 Z"/>
<path class="ln" d="M 590.13,683.73 L 635.35,729.23 L 639.4,753.53 M 635.35,729.23 L 629.28,724.51"/>
<path class="ln" d="M 588.78,684.68 L 623.2,663.75 M 604.98,659.03 Q 604.98,651.6 612.4,649.58 Q 619.15,648.9 623.2,662.4"/>
<path class="ln" d="M 611.05,699.53 L 632.65,687.38 L 636.7,693.45 M 632.65,687.38 L 640.08,691.43 M 640.75,681.98 L 655.6,673.2"/>
<path class="ln" d="M 634,687.38 L 661,709.65 L 666.4,711 M 644.13,713.7 L 647.5,736.66 M 661,709.65 L 661,742.06"/>
<ellipse class="ln" cx="612.13" cy="660.38" rx="2.7" ry="4.05" transform="rotate(20 612.13 660.38)"/>
<ellipse class="ln" cx="623.88" cy="650.93" rx="2.43" ry="3.51" transform="rotate(20 623.88 650.93)"/>
<ellipse class="ln" cx="620.5" cy="731.93" rx="1.89" ry="2.97" transform="rotate(20 620.5 731.93)"/>
<ellipse class="ln" cx="621.85" cy="743.41" rx="4.05" ry="6.75" transform="rotate(-30 621.85 743.41)"/>
<ellipse class="ln" cx="650.2" cy="714.78" rx="1.89" ry="2.97" transform="rotate(20 650.2 714.78)"/>
<ellipse class="ln" cx="651.28" cy="729.23" rx="4.05" ry="6.75" transform="rotate(-30 651.28 729.23)"/>
<path class="pu" d="M 606.33,651.6 L 616.45,658.35 M 623.2,730.58 L 629.95,724.51 L 629.95,723.16 M 627.25,743.41 L 631.98,740.71"/>
<path class="ln" d="M 629.95,630 L 629.95,723.16 M 643.45,630 L 643.45,717.75"/>
<path class="ln" d="M 648.85,733.96 L 648.85,763.66 L 660.33,757.58 L 660.33,770.41 M 631.98,758.26 L 631.98,770.41"/>
<path class="ln" style="fill:#fff" d="M 449.49,805.09 L 480.14,787.68 L 480.14,784.72 Q 484.1,782.15 490.03,783.33 L 497.94,775.82 L 503.87,776.81 L 507.83,787.68 L 507.83,811.81 L 490.43,821.7 L 459.38,819.32 L 449.49,812.4 Z"/>
<path class="ln" d="M 449.49,805.09 L 459.38,811.81 L 492.01,813.79 L 492.01,821.3 M 459.38,811.81 L 459.38,819.32"/>
<path class="ln" d="M 480.14,784.72 L 480.14,804.49 L 492.01,811.81 M 492.01,813.79 L 494.97,787.68 Q 493,782.15 486.08,783.33 M 497.94,779.77 L 497.94,806.47 L 502.88,804.49 L 502.88,780.76 M 494.97,787.68 L 507.83,787.68"/>
<ellipse class="ln" cx="460.37" cy="803.9" rx="4.35" ry="2.37" transform="rotate(-28 460.37 803.9)"/>
<ellipse class="ln" cx="476.19" cy="795.59" rx="2.97" ry="2.18" transform="rotate(-28 476.19 795.59)"/>
<ellipse class="ln" cx="486.47" cy="792.63" rx="1.98" ry="2.77" transform="rotate(20 486.47 792.63)"/>
<ellipse class="ln" cx="496.95" cy="786.7" rx="1.58" ry="2.37" transform="rotate(20 496.95 786.7)"/>
<text class="lb" x="470.74" y="848.3">29</text>
<path class="ln" d="M 480.74,835.14 L 482.52,821.7"/>
<path class="ln" d="M 486.47,792.63 L 440.59,818.93 M 508.82,779.77 L 515.74,775.82"/>
<ellipse class="ln" style="fill:#fff" cx="437.03" cy="820.31" rx="3.16" ry="5.14" transform="rotate(20 437.03 820.31)"/>
<path class="ln" d="M 435.65,821.7 L 438.22,818.93"/>
<text class="lb" x="450.97" y="846.32">3</text>
<path class="ln" d="M 449.49,837.52 L 439.61,824.27"/>
<use href="#hexnut" transform="translate(424.77 827.23) scale(1.1)"/>
<text class="lb" x="422.69" y="859.17">2</text>
<path class="ln" d="M 427.15,848 L 427.15,832.18"/>
<use href="#eclip" transform="translate(533.53 797.57)"/>
<text class="lb" x="521.17" y="823.18">15</text>
<path class="ln" d="M 534.52,812.4 L 535.91,801.53"/>
<text class="lb" x="557.75" y="813.69">14</text>
<path class="ln" d="M 567.55,797.57 L 569.13,782.74"/>
<path class="ln" d="M 635.97,828.22 L 635.97,840.09"/>
<path class="ln" style="fill:#fff" d="M633.3,840.68 L633.3,854.92 A1.07,2.67 90 0 0 638.64,854.92 L638.64,840.68 A1.07,2.67 90 0 0 633.3,840.68 Z"/>
<ellipse class="ln" cx="635.97" cy="840.68" rx="1.07" ry="2.67" transform="rotate(90 635.97 840.68)"/>
<path class="ln" d="M633.3,845.66 A1.07,2.67 90 0 1 638.64,845.66"/>
<path class="ln" d="M633.3,849.93 A1.07,2.67 90 0 1 638.64,849.93"/>
<text class="lb" x="602.25" y="856.21">34</text>
<path class="ln" d="M 619.55,850.57 L 632.41,849.38"/>
<path class="pu" d="M 620.54,789.66 Q 628.45,786.7 638.34,787.68 Q 648.23,784.72 654.16,790.65 M 628.45,795.59 L 628.45,823.28 Q 635.37,830.2 644.27,823.28 L 644.27,787.68 M 630.43,798.56 Q 634.39,799.55 632.41,807.46 Q 630.43,811.41 632.41,813.39 M 630.43,819.32 L 634.39,817.35"/>
<path class="ln" d="M 613.62,782.74 L 632.41,772.26 L 632.41,760 M 613.62,782.74 L 613.62,828.22 L 628.45,819.32 M 660.09,760 L 660.09,802.52 L 645.26,811.81"/>
<use href="#screw" transform="translate(864.3 123.61)"/>
<text class="lb" x="885.03" y="139.73">36</text>
<path class="ln" d="M 867.73,140.09 L 881.97,137.45"/>
<use href="#wash" transform="translate(864.56 158.55)"/>
<text class="lb" x="886.08" y="162.41">37</text>
<path class="ln" d="M 870.63,158.15 L 883.55,158.15"/>
<path class="ln" d="M 864.56,161.84 L 864.56,189.53"/>
<path class="ln" style="fill:#fff" d="M 845.58,187.95 L 867.73,173.97 Q 870.1,172.13 872.74,173.31 L 875.64,175.03 L 876.03,178.72 L 883.29,182.94 L 884.34,184.52 L 884.6,192.17 L 860.48,206.41 L 847.29,198.49 L 846.77,194.54 L 845.58,193.49 Z"/>
<path class="ln" d="M 845.58,187.95 L 852.96,191.9 L 853.23,195.07 L 860.48,200.08 L 884.34,185.57"/>
<path class="ln" d="M 852.96,191.9 L 876.03,178.72 M 852.17,188.61 L 875.64,175.29 M 860.48,200.08 L 860.48,206.41"/>
<ellipse class="ln" cx="866.15" cy="188.48" rx="4.48" ry="2.64"/>
<path class="ln" d="M 864.56,186.89 L 864.56,189.53"/>
<path class="ln" d="M 867.73,203.37 Q 871.02,200.08 875.64,201.13"/>
<text class="lb" x="905.2" y="193.13">35</text>
<path class="ln" d="M 884.6,188.48 L 903.98,188.48"/>
<path class="ln" d="M 864.56,205.35 L 864.56,252.81"/>
<use href="#screw" transform="translate(809.52 256.73)"/>
<text class="lb" x="772.37" y="257.69">17</text>
<path class="ln" d="M 788.43,258.97 L 805.56,269.25"/>
<use href="#wash" transform="translate(809.52 291.66)"/>
<text class="lb" x="771.84" y="291.7">18</text>
<path class="ln" d="M 790.01,287.71 L 803.59,291.01"/>
<path class="ln" d="M 809.52,294.56 L 809.52,303.53 L 838.79,287.05 L 838.79,298.26"/>
<use href="#wash" transform="translate(837.21 267.01)"/>
<text class="lb" x="871.64" y="262.3">20</text>
<path class="ln" d="M 842.48,265.96 L 869.51,260.68"/>
<path class="ln" d="M 837.21,269.91 L 837.21,278.22 L 848.41,271.89 L 848.41,292.72"/>
<path class="ln" style="fill:#fff" d="M 831.67,300.23 L 872.8,275.84 L 897.19,290.35 L 897.19,295.62 L 856.32,319.35 L 832.2,305.51 Z"/>
<path class="ln" d="M 831.67,300.23 L 856.32,314.74 L 897.19,290.35 M 856.32,314.74 L 856.32,319.35"/>
<ellipse class="ln" cx="838.52" cy="298.92" rx="3.56" ry="2.24"/>
<ellipse class="ln" cx="847.75" cy="294.3" rx="3.56" ry="2.24"/>
<ellipse class="ln" cx="864.23" cy="285.07" rx="3.56" ry="2.24"/>
<ellipse class="ln" cx="872.8" cy="279.8" rx="3.56" ry="2.24"/>
<ellipse class="ln" cx="889.94" cy="290.08" rx="3.56" ry="2.24"/>
<ellipse class="ln" cx="880.71" cy="294.7" rx="3.56" ry="2.24"/>
<ellipse class="ln" cx="864.23" cy="304.19" rx="3.56" ry="2.24"/>
<ellipse class="ln" cx="856.32" cy="309.46" rx="3.56" ry="2.24"/>
<ellipse class="ln" cx="864.63" cy="294.56" rx="9.23" ry="5.8"/>
<path class="ln" d="M 856.32,296.28 Q 864.63,302.87 873.46,296.28"/>
<path class="ln" d="M 864.23,229.7 L 864.23,294.56"/>
<text class="lb" x="921.35" y="271.53">16</text>
<path class="ln" d="M 888.62,283.75 L 920.92,272.15"/>
<use href="#screw" transform="translate(837.47 232.02)"/>
<text class="lb" x="872.57" y="237.33">19</text>
<path class="ln" d="M 840.5,247.58 L 871.22,238.35"/>
<path class="ln" d="M 848.02,315.4 L 848.02,366.81"/>
<path class="ln" d="M 847.94,315.05 L 847.94,491.29"/>
<path class="ln" style="fill:#fff" d="M 855.65,324.88 Q 855.65,320.64 864.14,320.64 Q 872.62,320.64 872.62,324.88 L 872.62,435.95 Q 872.62,439.81 864.14,439.81 Q 855.65,439.81 855.65,435.95 Z"/>
<path class="ln" d="M 855.65,324.88 Q 855.65,329.13 864.14,329.13 Q 872.62,329.13 872.62,324.88"/>
<ellipse class="ln" cx="864.14" cy="324.88" rx="3.47" ry="1.74"/>
<path class="ln" d="M 865.29,328.74 L 865.29,331.83 L 871.08,330.28 L 871.08,327.97"/>
<ellipse class="ln" cx="856.81" cy="365.38" rx="1.35" ry="2.89"/>
<ellipse class="ln" cx="859.12" cy="417.05" rx="3.47" ry="5.78"/>
<ellipse class="ln" cx="859.12" cy="430.55" rx="2.89" ry="3.86"/>
<text class="lb" x="909.72" y="352.76">21</text>
<path class="ln" d="M 872.62,372.7 L 906.36,353.81"/>
<path class="ln" d="M 858.16,418.02 L 835.6,430.55 L 835.6,502.86 L 857.19,489.94"/>
<path class="ln" d="M 873.01,408.38 L 894.8,396.81 L 894.8,469.12 L 871.66,482.62"/>
<path class="ln" style="fill:#fff" d="M 843.7,489.9 L 846.01,487.97 L 862.98,479.68 L 865.29,479.68 L 884.19,489.32 L 884.19,576.67 L 866.84,587.66 L 861.05,587.66 L 843.7,576.67 Z"/>
<path class="ln" d="M 843.7,489.9 L 846.01,491.83 L 861.05,499.92 L 866.84,499.92 L 884.19,490.28 M 861.05,499.92 L 861.05,587.66 M 866.84,499.92 L 866.84,587.66"/>
<ellipse class="ln" cx="863.94" cy="491.25" rx="11.18" ry="6.36"/>
<ellipse class="ln" cx="863.94" cy="491.25" rx="8.68" ry="4.82"/>
<ellipse class="ln" style="fill:#000" cx="847.55" cy="490.67" rx="0.96" ry="0.58"/>
<ellipse class="ln" style="fill:#000" cx="863.94" cy="481.61" rx="0.96" ry="0.58"/>
<ellipse class="ln" style="fill:#000" cx="880.33" cy="490.67" rx="0.96" ry="0.58"/>
<ellipse class="ln" style="fill:#000" cx="863.94" cy="499.92" rx="0.96" ry="0.58"/>
<ellipse class="ln" cx="852.37" cy="576.67" rx="2.31" ry="3.28" transform="rotate(-20 852.37 576.67)"/>
<path class="pu" d="M 859.12,492.21 L 859.12,574.16 L 855.27,576.67 M 870.69,492.21 L 870.69,561.24 Q 876.09,561.63 878.02,563.94 Q 876.48,567.41 873.01,565.87 L 872.23,561.63"/>
<text class="lb" x="898.73" y="521.05">23</text>
<path class="ln" d="M 885.15,515.35 L 895.76,515.35"/>
<ellipse class="ln" style="fill:#000" cx="851.99" cy="529.81" rx="0.77" ry="0.77"/>
<path class="ln" d="M 851.99,529.81 L 832.13,540.42"/>
<ellipse class="ln" style="fill:#fff" cx="829.23" cy="542.92" rx="3.47" ry="5.01" transform="rotate(-30 829.23 542.92)"/>
<path class="ln" d="M 827.88,544.27 L 830.2,541.38"/>
<text class="lb" x="796.92" y="519.89">24.2</text>
<path class="ln" d="M 822.1,524.99 L 828.27,538.49"/>
<use href="#hexnut" transform="translate(817.09 549.09) scale(1.1)"/>
<text class="lb" x="765.1" y="537.83">24.1</text>
<path class="ln" d="M 799.35,536.95 L 813.81,544.27"/>
<path class="ln" style="fill:#fff" d="M806.99,552.19 L791.95,560.1 A1.56,3.47 152.27 0 0 795.18,566.24 L810.22,558.34 A1.56,3.47 152.27 0 0 806.99,552.19 Z"/>
<ellipse class="ln" cx="793.56" cy="563.17" rx="1.56" ry="3.47" transform="rotate(152.27 793.56 563.17)"/>
<ellipse class="ln" cx="808.6" cy="555.27" rx="1.56" ry="3.47" transform="rotate(152.27 808.6 555.27)"/>
<path class="ln" d="M802.47,554.56 A1.56,3.47 152.27 0 1 805.7,560.71"/>
<path class="ln" d="M798.71,556.54 A1.56,3.47 152.27 0 1 801.94,562.69"/>
<path class="ln" d="M794.95,558.52 A1.56,3.47 152.27 0 1 798.18,564.66"/>
<text class="lb" x="753.92" y="556.53">24</text>
<path class="ln" d="M 773.31,551.99 L 796.45,556.81"/>
<path class="ln" d="M 835.6,471 L 835.6,502.82 L 859.12,489.32"/>
<path class="ln" d="M 851.73,576.81 L 835.91,585.71 L 835.91,653.93 L 857.66,642.06 L 857.66,662.83"/>
<path class="ln" d="M 894.24,560 L 894.24,619.32 L 872.09,632.18 L 872.09,647.01"/>
<path class="ln" d="M 859.64,699.41 L 859.64,738.96 L 841.25,749.84 L 841.25,765.66"/>
<path class="ln" d="M 876.44,689.52 L 876.44,729.67 L 887.32,724.13 L 887.32,765.66"/>
<path class="ln" style="fill:#fff" d="M 924.12,639.43 L 949.82,643.71 L 958.39,652.28 L 958.39,660.85 L 954.11,665.99 L 945.54,670.27 L 940.4,672.84 L 933.54,672.84 L 928.4,668.99 L 916.83,668.56 L 881.27,689.13 L 876.99,689.13 L 863.28,688.27 L 858.99,699.84 L 851.71,699.84 L 843.57,689.13 L 836.29,682.27 L 843.57,664.7 L 850,660.42 L 866.71,662.99 L 872.7,647.14 L 879.13,643.54 L 901.41,647.57 L 906.55,648.42 Z"/>
<path class="ln" d="M 843.57,664.7 L 886.41,671.99 L 922.4,651.85 L 933.54,653.14 M 886.41,671.99 L 881.27,689.13 M 922.4,651.85 L 916.83,668.56 M 850,660.42 L 872.28,664.7 M 873.13,647.99 L 899.27,652.71 L 876.13,664.7 M 873.13,647.14 L 873.13,664.28"/>
<ellipse class="ln" cx="880.84" cy="657.85" rx="2.4" ry="3.26" transform="rotate(10 880.84 657.85)"/>
<ellipse class="ln" cx="851.28" cy="674.99" rx="2.74" ry="3.43" transform="rotate(10 851.28 674.99)"/>
<ellipse class="ln" cx="849.57" cy="685.7" rx="5.83" ry="4.11" transform="rotate(30 849.57 685.7)"/>
<path class="ln" d="M 842.71,689.13 Q 846.14,684.84 852.99,684.84"/>
<path class="ln" style="fill:#fff" d="M 946.4,643.71 L 954.11,646.28 L 958.39,652.28 L 958.39,660.85 L 954.11,665.99 L 946.4,667.7 L 939.54,664.28 L 936.97,655.71 L 939.54,647.14 Z"/>
<ellipse class="ln" cx="946.4" cy="655.71" rx="2.4" ry="3.43" transform="rotate(10 946.4 655.71)"/>
<path class="ln" style="fill:#fff" d="M 933.54,653.99 L 940.4,655.71 L 943.83,662.56 L 942.97,669.42 L 938.68,672.84 L 933.54,672.84 L 928.4,668.99 L 928.4,658.28 Z"/>
<ellipse class="ln" cx="934.4" cy="663.85" rx="2.4" ry="3.43" transform="rotate(10 934.4 663.85)"/>
<path class="pu" d="M 885.56,655.71 L 900.12,647.99 M 888.98,665.13 L 929.26,642 M 876.56,671.13 L 876.56,710.03"/>
<ellipse class="pu" cx="879.56" cy="669.42" rx="7.28" ry="5.31"/>
<path class="ln" d="M 957.52,665.79 L 973.34,673.7 L 981.25,667.77 L 1007.95,681.02"/>
<path class="ln" d="M 965.43,677.07 L 955.54,682.6 L 982.24,697.83 L 988.76,694.47"/>
<path class="ln" style="fill:#fff" d="M 987.18,686.56 L 993.11,681.61 L 1005.97,684.58 L 1008.93,701.39 L 1013.88,713.25 L 1003,720.17 L 989.16,717.21 L 987.18,706.33 Z"/>
<path class="ln" d="M 987.18,686.56 L 996.08,690.51 L 1005.97,684.58 M 996.08,690.51 L 998.06,706.33 L 1008.93,701.39 M 987.18,706.33 L 998.06,706.33 L 1003,720.17"/>
<ellipse class="ln" cx="992.13" cy="692.09" rx="2.37" ry="3.16"/>
<text class="lb" x="1019.9" y="698.72">7</text>
<path class="ln" d="M 1029.7,697.43 L 1012.89,706.33"/>
<path class="ln" d="M 1003.99,720.17 L 1008.93,734.02"/>
<text class="lb" x="977.78" y="741.83">6</text>
<path class="ln" d="M 988.17,735.6 L 1004.98,736.39"/>
<text class="lb" x="934.28" y="585.61">32</text>
<path class="ln" d="M 941.7,590.65 L 927.46,640.09"/>
<use href="#ring" transform="translate(911.05 627.23) rotate(-30)"/>
<text class="lb" x="913.52" y="619.23">12</text>
<path class="ln" d="M 919.95,622.29 L 913.62,625.26"/>
<path class="ln" d="M 907.1,631.19 L 905.12,641.08"/>
<path class="ln" style="fill:#fff" d="M956.6,621.68 L945.73,626.23 A2.22,4.94 157.31 0 0 949.54,635.35 L960.42,630.81 A2.22,4.94 157.31 0 0 956.6,621.68 Z"/>
<ellipse class="ln" cx="947.63" cy="630.79" rx="2.22" ry="4.94" transform="rotate(157.31 947.63 630.79)"/>
<text class="lb" x="942.78" y="614.09">13</text>
<path class="ln" d="M 952.58,616.36 L 950.6,624.27"/>
<use href="#eclip" transform="translate(967.41 620.31)"/>
<text class="lb" x="979.76" y="614.09">15</text>
<path class="ln" d="M 980.26,611.81 L 970.37,618.33"/>
<path class="ln" d="M 959.5,625.26 L 965.43,622.88 M 932.8,640.09 L 945.66,632.18"/>
<use href="#ring" transform="translate(974.33 640.68) rotate(-30)"/>
<text class="lb" x="989.65" y="639">10</text>
<path class="ln" d="M 989.16,636.13 L 978.28,639.1"/>
<path class="ln" d="M 959.5,648.99 L 971.36,642.66"/>
<path class="ln" style="fill:#fff" d="M825.86,665.96 L786.31,688.31 A1.96,4.35 150.53 0 0 790.59,695.88 L830.14,673.54 A1.96,4.35 150.53 0 0 825.86,665.96 Z"/>
<ellipse class="ln" cx="788.45" cy="692.09" rx="1.96" ry="4.35" transform="rotate(150.53 788.45 692.09)"/>
<ellipse class="ln" cx="828" cy="669.75" rx="1.96" ry="4.35" transform="rotate(150.53 828 669.75)"/>
<path class="ln" d="M789.08,686.74 A1.96,4.35 150.53 0 1 793.36,694.32"/>
<text class="lb" x="785.38" y="663.13">11</text>
<path class="ln" d="M 801.7,666.78 L 809.61,674.69"/>
<path class="ln" d="M 829.38,668.36 L 832.94,667.77 L 832.94,685.57 L 836.9,683.59"/>
<use href="#ring" transform="translate(779.55 696.44) rotate(-30)"/>
<text class="lb" x="756.9" y="678.95">12</text>
<path class="ln" d="M 770.65,683 L 778.56,692.49"/>
<path class="ln" style="fill:#fff" d="M827.93,693.92 L817.05,698.87 A2.22,4.94 155.56 0 0 821.14,707.87 L832.02,702.92 A2.22,4.94 155.56 0 0 827.93,693.92 Z"/>
<ellipse class="ln" cx="819.1" cy="703.37" rx="2.22" ry="4.94" transform="rotate(155.56 819.1 703.37)"/>
<text class="lb" x="818.2" y="732.34">13</text>
<path class="ln" d="M 826.02,717.21 L 827.01,704.35"/>
<path class="ln" d="M 832.94,697.43 L 850.74,686.56"/>
<path class="ln" style="fill:#fff" d="M811.64,705.54 L803.73,709.89 A1.42,3.16 151.19 0 0 806.78,715.43 L814.69,711.08 A1.42,3.16 151.19 0 0 811.64,705.54 Z"/>
<ellipse class="ln" cx="813.17" cy="708.31" rx="1.42" ry="3.16" transform="rotate(151.19 813.17 708.31)"/>
<path class="ln" style="fill:#fff" d="M803.29,709.23 L780.55,722.28 A1.78,3.95 150.15 0 0 784.48,729.14 L807.22,716.09 A1.78,3.95 150.15 0 0 803.29,709.23 Z"/>
<path class="ln" style="fill:#fff" d="M780.95,722.96 L768.1,730.28 A1.42,3.16 150.35 0 0 771.23,735.78 L784.08,728.46 A1.42,3.16 150.35 0 0 780.95,722.96 Z"/>
<ellipse class="ln" cx="769.66" cy="733.03" rx="1.42" ry="3.16" transform="rotate(150.35 769.66 733.03)"/>
<path class="ln" d="M770.02,729.18 A1.42,3.16 150.35 0 1 773.16,734.68"/>
<path class="ln" d="M 791.02,721.76 L 793.79,720.37 L 794.78,723.73 L 792.01,725.12 Z"/>
<text class="lb" x="788.54" y="753.1">14</text>
<path class="ln" d="M 797.35,739.95 L 798.33,722.55"/>
<use href="#eclip" transform="translate(761.75 736.98)"/>
<path class="ln" d="M 758.79,760.71 L 762.74,740.94"/>
<path class="ln" style="fill:#fff" d="M918.19,687.96 L899.41,697.25 A1.78,3.95 153.68 0 0 902.92,704.34 L921.7,695.05 A1.78,3.95 153.68 0 0 918.19,687.96 Z"/>
<ellipse class="ln" cx="901.16" cy="700.79" rx="1.78" ry="3.95" transform="rotate(153.68 901.16 700.79)"/>
<ellipse class="ln" cx="919.95" cy="691.5" rx="1.78" ry="3.95" transform="rotate(153.68 919.95 691.5)"/>
<path class="ln" d="M901.29,696.32 A1.78,3.95 153.68 0 1 904.8,703.41"/>
<text class="lb" x="921.03" y="717.51">9</text>
<path class="ln" d="M 922.91,705.34 L 915,698.42"/>
<path class="ln" d="M 921.53,690.51 L 927.86,686.56 L 927.86,669.75"/>
<use href="#ring" transform="translate(891.28 707.32) rotate(-30)"/>
<text class="lb" x="896.71" y="730.36">10</text>
<path class="ln" d="M 903.73,717.8 L 894.24,710.29"/>
<path class="ln" d="M 840.77,750.28 L 840.77,795.27 L 856.97,786.27"/>
<path class="ln" d="M 887.81,740 L 887.81,768.28 L 871.11,778.05"/>
<path class="pu" d="M 847.97,756.71 Q 858.25,750.28 869.82,752.85 Q 878.82,755.42 881.9,751.57 M 856.97,755.42 L 856.97,791.41 Q 863.39,797.84 871.11,790.13 L 871.11,754.14 M 858.77,763.14 Q 863.39,765.71 860.82,773.42 Q 858.25,778.56 860.82,783.7 M 857.74,784.99 L 860.82,783.19"/>
<path class="ln" d="M 863.39,795.27 L 863.39,806.32"/>
<path class="ln" style="fill:#fff" d="M860.57,807.35 L860.57,821.75 A1.13,2.83 90 0 0 866.22,821.75 L866.22,807.35 A1.13,2.83 90 0 0 860.57,807.35 Z"/>
<ellipse class="ln" cx="863.39" cy="807.35" rx="1.13" ry="2.83" transform="rotate(90 863.39 807.35)"/>
<path class="ln" d="M860.57,812.39 A1.13,2.83 90 0 1 866.22,812.39"/>
<path class="ln" d="M860.57,816.71 A1.13,2.83 90 0 1 866.22,816.71"/>
<text class="lb" x="827.42" y="823.85">34</text>
<path class="ln" d="M 847.97,816.61 L 860.31,816.09"/>
<text class="lb" x="748.5" y="776.29">15</text>
<path class="ln" style="fill:#fff" d="M1052.37,849.08 L1046.43,832.1 A2.7,7.71 -109.27 0 0 1031.87,837.19 L1037.81,854.17 A2.7,7.71 -109.27 0 0 1052.37,849.08 Z"/>
<ellipse class="ln" cx="1039.15" cy="834.64" rx="2.7" ry="7.71" transform="rotate(-109.27 1039.15 834.64)"/>
<path class="ln" style="fill:#fff" d="M1052.5,829.98 L1046.56,812.99 A4.24,14.14 -109.27 0 0 1019.87,822.32 L1025.8,839.31 A4.24,14.14 -109.27 0 0 1052.5,829.98 Z"/>
<ellipse class="ln" cx="1033.21" cy="817.66" rx="4.24" ry="14.14" transform="rotate(-109.27 1033.21 817.66)"/>
<path class="ln" style="fill:#fff" d="M1044.86,813.58 L1033.41,780.82 A4.32,12.34 -109.27 0 0 1010.11,788.97 L1021.57,821.73 A4.32,12.34 -109.27 0 0 1044.86,813.58 Z"/>
<ellipse class="ln" cx="1021.76" cy="784.89" rx="4.32" ry="12.34" transform="rotate(-109.27 1021.76 784.89)"/>
<path class="ln" d="M 1023.29,806.32 Q 1030.49,812.49 1040.77,807.35 M 1024.32,809.41 Q 1031.52,815.58 1041.8,810.44"/>
<path class="ln" style="fill:#fff" d="M1035.35,780.14 L1028.99,761.94 A4.32,14.4 -109.27 0 0 1001.81,771.44 L1008.17,789.65 A4.32,14.4 -109.27 0 0 1035.35,780.14 Z"/>
<ellipse class="ln" cx="1015.4" cy="766.69" rx="4.32" ry="14.4" transform="rotate(-109.27 1015.4 766.69)"/>
<path class="ln" style="fill:#fff" d="M1024.13,763.64 L1021.17,755.15 A3.24,9.25 -109.27 0 0 1003.69,761.25 L1006.66,769.75 A3.24,9.25 -109.27 0 0 1024.13,763.64 Z"/>
<ellipse class="ln" cx="1012.43" cy="758.2" rx="3.24" ry="9.25" transform="rotate(-109.27 1012.43 758.2)"/>
<path class="ln" style="fill:#fff" d="M1015.1,757.27 L1010.86,745.13 A1.13,2.83 -109.27 0 0 1005.52,747 L1009.76,759.13 A1.13,2.83 -109.27 0 0 1015.1,757.27 Z"/>
<ellipse class="ln" cx="1008.19" cy="746.07" rx="1.13" ry="2.83" transform="rotate(-109.27 1008.19 746.07)"/>
<path class="ln" d="M1013.83,753.63 A1.13,2.83 -109.27 0 1 1008.49,755.49"/>
<path class="ln" d="M1012.55,749.99 A1.13,2.83 -109.27 0 1 1007.21,751.85"/>
<path class="ln" style="fill:#fff" d="M1013.04,744.37 L1009.65,734.66 A1.8,5.14 -109.27 0 0 999.94,738.06 L1003.33,747.76 A1.8,5.14 -109.27 0 0 1013.04,744.37 Z"/>
<ellipse class="ln" cx="1004.79" cy="736.36" rx="1.8" ry="5.14" transform="rotate(-109.27 1004.79 736.36)"/>
<ellipse class="ln" cx="1028.43" cy="772.13" rx="2.57" ry="3.08"/>
<ellipse class="ln" cx="1045.4" cy="824.83" rx="2.57" ry="3.08"/>
<ellipse class="ln" cx="1038.71" cy="841.54" rx="2.06" ry="2.83"/>
<path class="ln" d="M 1031.77,772.65 L 1052.34,773.42 M 1048.48,825.35 L 1070.33,827.4"/>
<use href="#elbow" transform="translate(1057.74 773.93) scale(-1 1)"/>
<use href="#elbow" transform="translate(1074.7 827.92) scale(-1 1)"/>
<text class="lb" x="1080.12" y="766.01">5</text>
<path class="ln" d="M 1085.76,766.99 L 1071.62,781.13"/>
<text class="lb" x="1093.74" y="810.99">5</text>
<path class="ln" d="M 1096.04,813.26 L 1087.04,831.26"/>
<text class="lb" x="981.66" y="796.34">4</text>
<path class="ln" d="M 993.21,791.41 L 1011.98,792.7"/>
<path class="ln" style="fill:#fff" d="M1010.05,799.84 L1013.65,809.61 A0.82,2.06 69.78 0 0 1017.51,808.18 L1013.91,798.42 A0.82,2.06 69.78 0 0 1010.05,799.84 Z"/>
<ellipse class="ln" cx="1015.58" cy="808.89" rx="0.82" ry="2.06" transform="rotate(69.78 1015.58 808.89)"/>
<path class="ln" d="M 1024.83,850.54 L 1024.83,873.68 L 1039.49,866.48 L 1039.49,889.1"/>
<path class="ln" d="M 1058.77,831.26 L 1058.77,854.4 L 1045.91,861.34 L 1045.91,885.24"/>
<path class="ln" style="fill:#fff" d="M 1027.4,909.67 L 1030.49,890.39 L 1039.49,883.96 L 1048.48,880.1 L 1056.2,883.96 L 1058.77,894.24 L 1058.77,910.18 L 1069.05,916.86 L 1069.05,925.09 L 1038.2,941.8 L 1028.43,935.89 Z"/>
<path class="ln" d="M 1028.43,919.95 L 1038.2,926.38 L 1069.05,916.86 M 1038.2,926.38 L 1038.2,941.8 M 1030.49,890.39 L 1039.49,895.53 L 1039.49,909.67 M 1039.49,895.53 L 1048.48,889.1 L 1048.48,907.1 L 1058.77,899.38 M 1039.49,909.67 L 1028.43,919.95"/>
<ellipse class="ln" cx="1041.29" cy="925.6" rx="4.63" ry="2.57" transform="rotate(-25 1041.29 925.6)"/>
<ellipse class="ln" cx="1058.77" cy="916.09" rx="4.63" ry="2.57" transform="rotate(-25 1058.77 916.09)"/>
<ellipse class="ln" cx="1036.92" cy="896.3" rx="2.06" ry="2.83"/>
<ellipse class="ln" cx="1047.2" cy="890.39" rx="2.06" ry="2.83"/>
<text class="lb" x="1008.91" y="970.38">30</text>
<path class="ln" d="M 1025.35,955.94 L 1033.06,937.94"/>
<ellipse class="ln" style="fill:#fff" cx="1011.98" cy="910.18" rx="3.34" ry="4.63"/>
<path class="ln" d="M 1010.95,911.72 L 1013.01,908.64"/>
<text class="lb" x="1003" y="890.69">3</text>
<path class="ln" d="M 1008.64,892.96 L 1009.92,905.81"/>
<path class="ln" d="M 1016.35,908.38 L 1035.63,896.81"/>
<use href="#hexnut" transform="translate(1000.93 917.38)"/>
<text class="lb" x="981.15" y="904.82">2</text>
<path class="ln" d="M 990.64,904.52 L 998.35,913.52"/>
<path class="ln" style="fill:#fff" d="M1086.69,864.63 L1066.13,877.49 A1.39,3.08 147.99 0 0 1069.4,882.72 L1089.96,869.87 A1.39,3.08 147.99 0 0 1086.69,864.63 Z"/>
<ellipse class="ln" cx="1067.76" cy="880.1" rx="1.39" ry="3.08" transform="rotate(147.99 1067.76 880.1)"/>
<path class="ln" d="M1070.24,874.92 A1.39,3.08 147.99 0 1 1073.51,880.15"/>
<path class="ln" d="M1068.6,875.94 A1.39,3.08 147.99 0 1 1071.87,881.18"/>
<ellipse class="ln" style="fill:#fff" cx="1090.13" cy="865.96" rx="3.34" ry="4.63" transform="rotate(-30 1090.13 865.96)"/>
<text class="lb" x="1104.02" y="853.41">1</text>
<path class="ln" d="M 1103.75,851.83 L 1092.19,863.39"/>
<path class="ln" d="M 1058.77,885.24 L 1066.48,880.87"/>
<use href="#screw" transform="translate(1091.67 880.87)"/>
<text class="lb" x="1108.39" y="886.83">26</text>
<path class="ln" d="M 1107.61,885.24 L 1096.04,887.81"/>
<use href="#wash2" transform="translate(1091.67 911.72)"/>
<use href="#wash2" transform="translate(1091.67 925.09)"/>
<text class="lb" x="1107.62" y="915.11">27</text>
<path class="ln" d="M 1107.1,910.95 L 1097.33,912.24"/>
<text class="lb" x="1107.62" y="940.3">28</text>
<path class="ln" d="M 1107.1,934.86 L 1097.33,927.66"/>
<path class="ln" d="M 1091.67,929.72 L 1091.67,937.43 L 1041.29,908.38 L 1041.29,925.6"/>
<use href="#screw" transform="translate(1395.71 137.47)"/>
<text class="lb" x="1414.59" y="153.33">36</text>
<path class="ln" d="M 1398.61,156.33 L 1412.72,151.98"/>
<use href="#wash" transform="translate(1395.71 172.15)"/>
<text class="lb" x="1415.91" y="176.4">37</text>
<path class="ln" d="M 1401.25,170.83 L 1412.46,168.59"/>
<path class="ln" d="M 1395.71,174.78 L 1395.71,201.15"/>
<path class="ln" style="fill:#fff" d="M 1378.84,208.14 L 1402.57,193.9 L 1406.92,195.88 L 1412.46,194.56 L 1417.07,197.2 L 1418.79,201.15 L 1418.39,205.11 L 1417.07,209.06 L 1395.32,222.25 L 1392.68,220.93 L 1379.5,213.68 Z"/>
<path class="ln" d="M 1378.84,208.14 L 1388.07,212.62 L 1411.14,199.17 L 1417.07,197.2 M 1388.07,212.62 L 1388.07,210.78 L 1392.68,213.68 L 1392.68,221.32 M 1392.68,215 L 1417.99,201.55"/>
<path class="ln" d="M 1391.36,203.79 L 1403.23,197.2 L 1406.92,195.88 M 1395.32,201.15 L 1395.32,197.86 L 1403.23,193.9 M 1404.55,208.4 L 1404.55,204.45 M 1411.14,205.11 L 1411.14,201.15"/>
<path class="ln" d="M 1395.32,220.27 Q 1399.27,217.63 1404.55,216.31"/>
<text class="lb" x="1434.77" y="205.8">35</text>
<path class="ln" d="M 1419.05,203.13 L 1432.23,202.47"/>
<path class="ln" d="M 1395.71,222.25 L 1395.71,266.41"/>
<use href="#screw" transform="translate(1340.42 263.83)"/>
<text class="lb" x="1303.27" y="264.79">17</text>
<path class="ln" d="M 1319.33,266.07 L 1336.46,276.35"/>
<use href="#wash" transform="translate(1340.42 298.76)"/>
<text class="lb" x="1302.74" y="298.8">18</text>
<path class="ln" d="M 1320.91,294.81 L 1334.49,298.11"/>
<path class="ln" d="M 1340.42,301.66 L 1340.42,310.63 L 1369.69,294.15 L 1369.69,305.36"/>
<use href="#wash" transform="translate(1368.11 274.11)"/>
<text class="lb" x="1402.54" y="269.4">20</text>
<path class="ln" d="M 1373.38,273.06 L 1400.41,267.78"/>
<path class="ln" d="M 1368.11,277.01 L 1368.11,285.32 L 1379.31,278.99 L 1379.31,299.82"/>
<path class="ln" style="fill:#fff" d="M 1362.57,307.33 L 1403.7,282.94 L 1428.09,297.45 L 1428.09,302.72 L 1387.22,326.45 L 1363.1,312.61 Z"/>
<path class="ln" d="M 1362.57,307.33 L 1387.22,321.84 L 1428.09,297.45 M 1387.22,321.84 L 1387.22,326.45"/>
<ellipse class="ln" cx="1369.42" cy="306.02" rx="3.56" ry="2.24"/>
<ellipse class="ln" cx="1378.65" cy="301.4" rx="3.56" ry="2.24"/>
<ellipse class="ln" cx="1395.13" cy="292.17" rx="3.56" ry="2.24"/>
<ellipse class="ln" cx="1403.7" cy="286.9" rx="3.56" ry="2.24"/>
<ellipse class="ln" cx="1420.84" cy="297.18" rx="3.56" ry="2.24"/>
<ellipse class="ln" cx="1411.61" cy="301.8" rx="3.56" ry="2.24"/>
<ellipse class="ln" cx="1395.13" cy="311.29" rx="3.56" ry="2.24"/>
<ellipse class="ln" cx="1387.22" cy="316.56" rx="3.56" ry="2.24"/>
<ellipse class="ln" cx="1395.53" cy="301.66" rx="9.23" ry="5.8"/>
<path class="ln" d="M 1387.22,303.38 Q 1395.53,309.97 1404.36,303.38"/>
<path class="ln" d="M 1395.13,236.8 L 1395.13,301.66"/>
<text class="lb" x="1452.25" y="278.63">16</text>
<path class="ln" d="M 1419.52,290.85 L 1451.82,279.25"/>
<use href="#screw" transform="translate(1368.37 239.12)"/>
<text class="lb" x="1403.47" y="244.43">19</text>
<path class="ln" d="M 1371.4,254.68 L 1402.12,245.45"/>
<path class="ln" d="M 1378.92,322.5 L 1378.92,373.91"/>
<path class="ln" d="M 1379.59,323.36 L 1379.59,486.47"/>
<path class="ln" style="fill:#fff" d="M 1388.28,334.83 Q 1388.28,329.1 1396.31,329.1 Q 1404.51,329.1 1404.51,333.19 L 1404.51,444.67 Q 1404.51,448.28 1396.31,448.28 Q 1388.28,448.28 1388.28,444.67 Z"/>
<ellipse class="ln" cx="1396.31" cy="333.52" rx="3.28" ry="1.64"/>
<path class="ln" d="M 1388.28,334.83 Q 1391.89,338.11 1396.8,337.78 Q 1403.36,337.29 1404.51,333.19"/>
<path class="ln" d="M 1389.92,336.8 L 1389.92,339.75 L 1395.16,341.39 L 1395.49,338.93"/>
<ellipse class="ln" cx="1403.03" cy="373.85" rx="1.31" ry="2.95"/>
<ellipse class="ln" cx="1400.9" cy="425.82" rx="3.61" ry="5.9" transform="rotate(15 1400.9 425.82)"/>
<path class="ln" d="M 1403.03,435.16 Q 1398.44,436.47 1398.44,441.39 Q 1400.08,443.85 1403.36,441.39"/>
<text class="lb" x="1441.88" y="361.03">21</text>
<path class="ln" d="M 1405,379.1 L 1439.43,360.24"/>
<path class="ln" d="M 1376.64,411.55 L 1365.33,405 L 1365.33,476.64 L 1377.13,484.01"/>
<path class="ln" d="M 1382.05,414.34 L 1387.79,417.62"/>
<path class="ln" d="M 1403.36,428.28 L 1424.67,438.93 L 1424.67,487.29"/>
<path class="ln" d="M 1382.22,485.86 L 1388,490.1"/>
<path class="ln" d="M 1424.64,465.04 L 1424.64,510.74 L 1416.15,506.11"/>
<path class="ln" style="fill:#fff" d="M 1375.66,498.39 L 1378.36,496.08 L 1395.33,486.83 L 1398.8,486.83 L 1416.15,496.47 L 1416.15,583.62 L 1399.19,594.81 L 1393.79,594.81 L 1375.66,584.59 Z"/>
<path class="ln" d="M 1375.66,498.39 L 1377.97,500.32 L 1393.01,509.39 L 1399.19,509.39 L 1416.15,498.39"/>
<path class="ln" d="M 1393.01,509.39 L 1393.01,594.81 M 1399.19,509.39 L 1399.19,594.81"/>
<ellipse class="ln" cx="1395.33" cy="499.17" rx="10.61" ry="5.78"/>
<ellipse class="ln" cx="1395.33" cy="499.17" rx="7.71" ry="4.24"/>
<ellipse class="ln" style="fill:#000" cx="1379.9" cy="498.78" rx="0.96" ry="0.58"/>
<ellipse class="ln" style="fill:#000" cx="1396.29" cy="489.52" rx="0.96" ry="0.58"/>
<ellipse class="ln" style="fill:#000" cx="1412.3" cy="498.78" rx="0.96" ry="0.58"/>
<ellipse class="ln" style="fill:#000" cx="1396.29" cy="508.04" rx="0.96" ry="0.58"/>
<ellipse class="ln" cx="1407.48" cy="584.97" rx="2.12" ry="3.28" transform="rotate(20 1407.48 584.97)"/>
<path class="pu" d="M 1388,501.67 L 1388,570.13 Q 1385.69,567.81 1382.79,570.13 Q 1381.45,574.37 1385.69,573.98 L 1388,573.02"/>
<path class="pu" d="M 1402.08,501.67 L 1402.08,581.31 L 1404.58,582.85"/>
<path class="ln" d="M 1379.32,465.04 L 1379.32,498.78"/>
<path class="ln" d="M 1365.44,560.49 L 1375.66,566.27"/>
<path class="ln" d="M 1365.44,560.49 L 1365.44,627.59 L 1388,641.47 L 1388,666.54"/>
<path class="ln" d="M 1409.79,587.1 L 1424.64,594.23 L 1424.64,661.72 L 1403.43,649.19 L 1403.43,666.54"/>
<path class="pu" d="M 1388.45,335.78 L 1388.45,445.7"/>
<path class="pu" d="M 1388.06,362.39 L 1388.06,367.6 L 1389.61,367.6 L 1389.61,362.39 Z"/>
<path class="ln" d="M 1374.37,522.83 L 1360.88,515.11"/>
<ellipse class="ln" style="fill:#fff" cx="1357.02" cy="513.19" rx="3.09" ry="4.63" transform="rotate(20 1357.02 513.19)"/>
<path class="ln" d="M 1356.05,514.73 L 1357.98,511.64"/>
<text class="lb" x="1328.17" y="459.88">24.2</text>
<path class="ln" d="M 1348.73,465.94 L 1359.91,509.33"/>
<use href="#hexnut" transform="translate(1345.06 505.47) scale(1.1)"/>
<text class="lb" x="1296.74" y="446">24.1</text>
<path class="ln" d="M 1313.63,453.41 L 1344.49,500.65"/>
<path class="ln" style="fill:#fff" d="M1338.15,497.89 L1322.73,490.18 A1.39,3.09 -153.43 0 0 1319.97,495.7 L1335.39,503.41 A1.39,3.09 -153.43 0 0 1338.15,497.89 Z"/>
<ellipse class="ln" cx="1321.35" cy="492.94" rx="1.39" ry="3.09" transform="rotate(-153.43 1321.35 492.94)"/>
<path class="ln" d="M1333.52,495.58 A1.39,3.09 -153.43 0 1 1330.76,501.1"/>
<path class="ln" d="M1329.67,493.65 A1.39,3.09 -153.43 0 1 1326.91,499.17"/>
<path class="ln" d="M1325.81,491.72 A1.39,3.09 -153.43 0 1 1323.05,497.24"/>
<text class="lb" x="1266.85" y="446.96">24</text>
<path class="ln" d="M 1285.67,449.55 L 1324.24,490.05"/>
<text class="lb" x="1429.83" y="545.71">23</text>
<path class="ln" d="M 1416.72,540.49 L 1427.54,540.49"/>
<path class="ln" d="M 1388.13,665.07 L 1388.13,677.46"/>
<path class="ln" d="M 1402.7,665.07 L 1402.7,705.34"/>
<path class="ln" d="M 1383.49,730.13 L 1383.49,761.12" style="stroke-dasharray:10,2.5"/>
<path class="ln" d="M 1399.29,728.58 L 1399.29,761.12" style="stroke-dasharray:10,2.5"/>
<path class="ln" style="fill:#fff" d="M 1342.65,688.28 L 1381.62,672.89 L 1387.69,677.65 L 1392.75,698.4 L 1410.97,691.82 L 1416.03,694.86 L 1419.07,705.49 L 1418.06,721.68 L 1415.02,726.74 L 1408.95,730.79 L 1405.4,736.86 L 1390.73,739.39 L 1388.7,732.81 Q 1387.69,729.78 1384.66,730.28 L 1380.61,733.83 L 1367.45,739.9 L 1366.44,721.17 L 1347.71,711.56 Z"/>
<path class="ln" d="M 1342.65,688.28 L 1366.44,704.47 L 1348.22,711.76 M 1364.41,686.26 L 1387.19,678.16 M 1364.41,686.26 L 1386.68,700.93 L 1392.75,698.4 M 1387.69,677.65 L 1392.75,698.4"/>
<path class="ln" d="M 1394.27,705.49 L 1416.03,697.39 M 1394.27,705.49 L 1399.84,709.53 L 1405.4,736.86 M 1366.44,721.17 L 1397.31,710.55"/>
<ellipse class="ln" cx="1380.1" cy="689.29" rx="2.02" ry="2.73" transform="rotate(25 1380.1 689.29)"/>
<path class="ln" d="M 1382.13,697.39 Q 1385.16,695.36 1386.68,699.41"/>
<ellipse class="ln" cx="1409.96" cy="708.52" rx="1.92" ry="2.73" transform="rotate(25 1409.96 708.52)"/>
<ellipse class="ln" cx="1410.97" cy="719.66" rx="5.57" ry="3.64" transform="rotate(-30 1410.97 719.66)"/>
<path class="ln" d="M 1405.4,722.19 Q 1409.96,717.13 1416.03,716.11"/>
<path class="ln" style="fill:#fff" d="M 1352.27,711.76 L 1340.12,721.68 Q 1336.28,725.73 1336.58,730.79 L 1339.11,734.84 L 1341.94,736.36 L 1354.29,727.75 L 1356.82,721.68 Z"/>
<path class="ln" d="M 1353.89,713.99 L 1342.35,724.51 Q 1340.32,727.96 1341.13,734.03"/>
<ellipse class="ln" cx="1348.42" cy="727.25" rx="2.02" ry="2.73" transform="rotate(30 1348.42 727.25)"/>
<path class="ln" d="M 1353.89,713.99 L 1356.82,721.68 L 1362.39,718.64"/>
<path class="ln" style="fill:#fff" d="M 1366.44,721.17 L 1352.77,732.31 Q 1348.72,735.85 1349.23,740.4 L 1353.28,744.96 L 1358.34,744.96 Q 1363.4,742.94 1367.45,739.9 L 1367.65,725.73 Z"/>
<path class="ln" d="M 1351.76,733.42 Q 1350.04,737.37 1350.75,742.43"/>
<ellipse class="ln" cx="1360.16" cy="735.34" rx="2.02" ry="2.73" transform="rotate(30 1360.16 735.34)"/>
<path class="pu" d="M 1350.75,687.77 L 1383.14,707.51 L 1383.14,734.84 M 1402.37,694.35 L 1402.37,704.47 L 1405.4,706.5 M 1399.84,715.1 L 1399.84,735.85 M 1399.84,715.1 L 1404.9,718.14"/>
<use href="#eclip" transform="translate(1312.53 665.07)"/>
<text class="lb" x="1299.95" y="646">15</text>
<path class="ln" d="M 1309.12,648.02 L 1313.31,660.42"/>
<path class="ln" d="M 1315.32,666.92 L 1321.83,670.49"/>
<path class="ln" style="fill:#fff" d="M1320.64,674.36 L1330.71,679.47 A1.95,4.34 26.92 0 0 1334.64,671.73 L1324.57,666.62 A1.95,4.34 26.92 0 0 1320.64,674.36 Z"/>
<ellipse class="ln" cx="1332.67" cy="675.6" rx="1.95" ry="4.34" transform="rotate(26.92 1332.67 675.6)"/>
<text class="lb" x="1328.3" y="649.56">13</text>
<path class="ln" d="M 1333.45,653.45 L 1329.88,668.16"/>
<path class="ln" d="M 1333.45,676.68 L 1347.39,684.43"/>
<use href="#ring" transform="translate(1346.92 670.49) rotate(35)"/>
<text class="lb" x="1358.51" y="653.75">12</text>
<path class="ln" d="M 1362.88,655.77 L 1349.71,666.62"/>
<path class="ln" d="M 1350.02,672.81 L 1362.11,679.78"/>
<use href="#ring" transform="translate(1322.6 713.09) rotate(35)"/>
<text class="lb" x="1294.99" y="709.52">10</text>
<path class="ln" d="M 1311.76,709.22 L 1319.5,710.77"/>
<path class="ln" d="M 1326.17,715.41 L 1337.32,721.61"/>
<text class="lb" x="1444.49" y="680.86">33</text>
<path class="ln" d="M 1439.57,680.56 L 1414.78,693.73"/>
<path class="ln" d="M 1416.33,706.89 L 1425.62,715.41 L 1425.62,703.8 L 1435.69,709.22"/>
<path class="ln" style="fill:#fff" d="M1435.45,714.03 L1474.96,735.71 A1.67,3.72 28.77 0 0 1478.54,729.2 L1439.03,707.51 A1.67,3.72 28.77 0 0 1435.45,714.03 Z"/>
<ellipse class="ln" cx="1476.75" cy="732.46" rx="1.67" ry="3.72" transform="rotate(28.77 1476.75 732.46)"/>
<ellipse class="ln" cx="1437.24" cy="710.77" rx="1.67" ry="3.72" transform="rotate(28.77 1437.24 710.77)"/>
<path class="ln" d="M1472.19,734.2 A1.67,3.72 28.77 0 1 1475.77,727.68"/>
<text class="lb" x="1464.63" y="705.64">11</text>
<path class="ln" d="M 1469.78,709.22 L 1462.03,719.29"/>
<use href="#ring" transform="translate(1484.49 737.1) rotate(35)"/>
<text class="lb" x="1492.98" y="716.49">12</text>
<path class="ln" d="M 1498.13,721.61 L 1486.82,733.54"/>
<path class="ln" d="M 1413.23,721.61 L 1429.5,731.68"/>
<path class="ln" style="fill:#fff" d="M1428.31,736.67 L1439.92,742.09 A2.09,4.65 25.02 0 0 1443.86,733.67 L1432.24,728.24 A2.09,4.65 25.02 0 0 1428.31,736.67 Z"/>
<ellipse class="ln" cx="1441.89" cy="737.88" rx="2.09" ry="4.65" transform="rotate(25.02 1441.89 737.88)"/>
<path class="ln" d="M 1362.11,737.1 L 1417.88,768.71"/>
<path class="ln" d="M 1383.49,740 L 1383.49,782.6" style="stroke-dasharray:10,2.5"/>
<path class="ln" d="M 1399.29,740 L 1399.29,791.12" style="stroke-dasharray:10,2.5"/>
<path class="ln" style="fill:#fff" d="M1446.84,743.69 L1455.36,748.65 A1.12,2.48 30.19 0 0 1457.85,744.36 L1449.33,739.41 A1.12,2.48 30.19 0 0 1446.84,743.69 Z"/>
<ellipse class="ln" cx="1448.09" cy="741.55" rx="1.12" ry="2.48" transform="rotate(30.19 1448.09 741.55)"/>
<path class="ln" style="fill:#fff" d="M1455.03,749.17 L1477.49,762.49 A1.39,3.1 30.67 0 0 1480.65,757.16 L1458.19,743.84 A1.39,3.1 30.67 0 0 1455.03,749.17 Z"/>
<path class="ln" style="fill:#fff" d="M1477.76,761.93 L1490.15,769.68 A1.12,2.48 32.01 0 0 1492.78,765.47 L1480.38,757.73 A1.12,2.48 32.01 0 0 1477.76,761.93 Z"/>
<ellipse class="ln" cx="1491.46" cy="767.58" rx="1.12" ry="2.48" transform="rotate(32.01 1491.46 767.58)"/>
<path class="ln" d="M1488.29,768.52 A1.12,2.48 32.01 0 1 1490.92,764.31"/>
<path class="ln" d="M 1465.9,755.18 L 1468.07,754.25 L 1469,757.04 L 1466.83,757.97 Z"/>
<text class="lb" x="1457.66" y="789.56">14</text>
<path class="ln" d="M 1466.68,775.63 L 1464.35,758.28"/>
<text class="lb" x="1425.12" y="765.09">13</text>
<path class="ln" d="M 1432.59,752.39 L 1432.59,740.77"/>
<path class="ln" style="fill:#fff" d="M1416.97,772.92 L1437.89,782.99 A1.74,3.87 25.71 0 0 1441.25,776.01 L1420.33,765.94 A1.74,3.87 25.71 0 0 1416.97,772.92 Z"/>
<ellipse class="ln" cx="1439.57" cy="779.5" rx="1.74" ry="3.87" transform="rotate(25.71 1439.57 779.5)"/>
<ellipse class="ln" cx="1418.65" cy="769.43" rx="1.74" ry="3.87" transform="rotate(25.71 1418.65 769.43)"/>
<path class="ln" d="M1435.79,781.99 A1.74,3.87 25.71 0 1 1439.15,775.01"/>
<text class="lb" x="1419.7" y="802.27">9</text>
<path class="ln" d="M 1424.85,789.57 L 1426.4,781.05"/>
<use href="#ring" transform="translate(1447.31 785.7) rotate(35)"/>
<text class="lb" x="1446.5" y="812.8">10</text>
<path class="ln" d="M 1454.75,798.87 L 1449.64,789.26"/>
<use href="#eclip" transform="translate(1498.44 771.76)"/>
<text class="lb" x="1494.84" y="808.46">15</text>
<path class="ln" d="M 1502.31,794.22 L 1497.66,775.32"/>
<path class="ln" d="M 1383.49,782.6 L 1371.4,777.18 L 1371.4,822.11 L 1387.67,831.4"/>
<path class="ln" d="M 1399.29,791.12 L 1418.65,801.97 L 1418.65,848.44 L 1403.93,839.15"/>
<path class="pu" d="M 1377.6,809.71 Q 1385.34,805.07 1393.09,808.16 Q 1403.93,814.36 1408.58,812.81 Q 1410.91,811.26 1411.68,808.94 M 1387.67,808.16 L 1387.67,842.25 Q 1396.19,849.99 1404.71,842.25 L 1404.71,814.36 M 1402.39,816.68 Q 1398.51,817.46 1398.05,823.66 Q 1398.51,829.85 1402.7,828.3 M 1403.16,817.46 L 1403.16,832.95 Q 1399.29,834.5 1398.98,838.37 Q 1400.84,840.7 1403.93,839.15"/>
<path class="ln" d="M 1395.88,848.44 L 1395.88,860.06"/>
<path class="ln" style="fill:#fff" d="M1393.09,860.06 L1393.09,874 A1.12,2.79 90 0 0 1398.67,874 L1398.67,860.06 A1.12,2.79 90 0 0 1393.09,860.06 Z"/>
<ellipse class="ln" cx="1395.88" cy="860.06" rx="1.12" ry="2.79" transform="rotate(90 1395.88 860.06)"/>
<path class="ln" d="M1393.09,864.66 A1.12,2.79 90 0 1 1398.67,864.66"/>
<path class="ln" d="M1393.09,869.26 A1.12,2.79 90 0 1 1398.67,869.26"/>
<text class="lb" x="1363.16" y="873.84">34</text>
<path class="ln" d="M 1380.39,868.27 L 1393.09,867.34"/>
<path class="ln" style="fill:#fff" d="M 1296.3,771.69 L 1303.72,758.19 L 1306.09,759.54 L 1307.77,759.54 L 1309.8,755.15 L 1314.86,744.68 L 1318.91,742.32 L 1322.97,743.33 L 1328.37,746.71 L 1328.71,752.11 L 1326.34,756.16 L 1320.27,765.62 L 1323.64,768.32 L 1316.21,781.82 L 1307.1,778.44 Z"/>
<path class="ln" d="M 1312.5,763.59 L 1320.27,765.62 M 1312.5,763.59 L 1319.59,748.4 M 1307.1,778.44 L 1314.86,765.28 L 1312.5,763.59 M 1314.86,744.68 L 1320.27,748.4 L 1328.37,746.71 M 1316.21,743.67 L 1320.27,746.71 L 1324.32,745.36"/>
<ellipse class="ln" cx="1322.63" cy="753.8" rx="2.84" ry="3.92" transform="rotate(25 1322.63 753.8)"/>
<ellipse class="ln" cx="1323.51" cy="752.79" rx="1.35" ry="2.03" transform="rotate(25 1323.51 752.79)"/>
<path class="ln" d="M 1311.83,747.38 L 1306.09,744.01 L 1320.6,735.57 L 1329.04,740.3 L 1338.83,734.89"/>
<path class="ln" d="M 1348.62,738.61 L 1337.82,745.36 L 1347.27,750.76 L 1332.76,759.54 L 1325.33,755.49"/>
<text class="lb" x="1277.81" y="743.21">7</text>
<path class="ln" d="M 1287.61,743.5 L 1307.58,753.78"/>
<path class="ln" d="M 1304.02,780.48 L 1300.85,785.03"/>
<path class="ln" d="M 1305.12,780.71 L 1298.99,790.71"/>
<path class="ln" style="fill:#fff" d="M1246.91,900.82 L1256.82,882.26 A1.19,5.93 -61.89 0 0 1246.36,876.67 L1236.44,895.23 A1.19,5.93 -61.89 0 0 1246.91,900.82 Z"/>
<ellipse class="ln" cx="1251.59" cy="879.46" rx="1.19" ry="5.93" transform="rotate(-61.89 1251.59 879.46)"/>
<ellipse class="ln" cx="1246.01" cy="889.9" rx="1.19" ry="1.58" transform="rotate(-30 1246.01 889.9)"/>
<path class="ln" style="fill:#fff" d="M1263.22,885.67 L1271.89,869.43 A3.96,13.18 -61.89 0 0 1248.63,857.01 L1239.96,873.25 A3.96,13.18 -61.89 0 0 1263.22,885.67 Z"/>
<ellipse class="ln" cx="1260.26" cy="863.22" rx="3.96" ry="13.18" transform="rotate(-61.89 1260.26 863.22)"/>
<path class="ln" style="fill:#fff" d="M1270.03,868.43 L1287.38,835.95 A3.88,11.07 -61.89 0 0 1267.84,825.52 L1250.49,858 A3.88,11.07 -61.89 0 0 1270.03,868.43 Z"/>
<ellipse class="ln" cx="1277.61" cy="830.73" rx="3.88" ry="11.07" transform="rotate(-61.89 1277.61 830.73)"/>
<path class="ln" d="M 1252.64,851.25 Q 1265.56,859.16 1278.09,855.2 M 1251.72,854.54 Q 1264.9,862.45 1277.17,858.5"/>
<path class="ln" style="fill:#fff" d="M1289.24,836.94 L1297.61,821.28 A3.96,13.18 -61.89 0 0 1274.35,808.86 L1265.98,824.52 A3.96,13.18 -61.89 0 0 1289.24,836.94 Z"/>
<ellipse class="ln" cx="1285.98" cy="815.07" rx="3.96" ry="13.18" transform="rotate(-61.89 1285.98 815.07)"/>
<path class="ln" style="fill:#fff" d="M1294.35,819.54 L1299,810.84 A3.32,9.49 -61.89 0 0 1282.25,801.9 L1277.61,810.6 A3.32,9.49 -61.89 0 0 1294.35,819.54 Z"/>
<ellipse class="ln" cx="1290.63" cy="806.37" rx="3.32" ry="9.49" transform="rotate(-61.89 1290.63 806.37)"/>
<path class="ln" style="fill:#fff" d="M1293.42,807.86 L1297.75,799.74 A1.27,3.16 -61.89 0 0 1292.17,796.76 L1287.83,804.88 A1.27,3.16 -61.89 0 0 1293.42,807.86 Z"/>
<ellipse class="ln" cx="1294.96" cy="798.25" rx="1.27" ry="3.16" transform="rotate(-61.89 1294.96 798.25)"/>
<path class="ln" d="M1294.72,805.42 A1.27,3.16 -61.89 0 1 1289.14,802.44"/>
<path class="ln" d="M1296.02,802.99 A1.27,3.16 -61.89 0 1 1290.44,800.01"/>
<path class="ln" style="fill:#fff" d="M1301.01,801.48 L1303.61,796.6 A1.23,6.86 -61.89 0 0 1291.52,790.14 L1288.92,795.02 A1.23,6.86 -61.89 0 0 1301.01,801.48 Z"/>
<ellipse class="ln" cx="1297.57" cy="793.37" rx="1.23" ry="6.86" transform="rotate(-61.89 1297.57 793.37)"/>
<path class="ln" d="M 1294.96,798.25 L 1297.57,793.37"/>
<path class="ln" style="fill:#fff" d="M1299.54,794.43 L1302.52,788.86 A0.9,2.24 -61.89 0 0 1298.56,786.75 L1295.59,792.32 A0.9,2.24 -61.89 0 0 1299.54,794.43 Z"/>
<ellipse class="ln" cx="1300.54" cy="787.81" rx="0.9" ry="2.24" transform="rotate(-61.89 1300.54 787.81)"/>
<ellipse class="ln" cx="1272.81" cy="820.53" rx="2.9" ry="3.43"/>
<ellipse class="ln" cx="1245.79" cy="871.42" rx="2.9" ry="3.43"/>
<path class="ln" d="M 1269.52,820 L 1261.87,816.97 M 1242.62,870.63 L 1234.98,867.99"/>
<use href="#elbow" transform="translate(1255.02 814.6)"/>
<use href="#elbow" transform="translate(1228.12 865.35)"/>
<text class="lb" x="1266.38" y="781.28">6</text>
<path class="ln" d="M 1277.43,776.76 L 1290.61,790.6"/>
<text class="lb" x="1229.47" y="808.04">5</text>
<path class="ln" d="M 1239.85,806.42 L 1249.08,812.35"/>
<text class="lb" x="1205.74" y="856.16">5</text>
<path class="ln" d="M 1214.41,856.12 L 1222.06,862.45"/>
<text class="lb" x="1301.01" y="860.36">4</text>
<path class="ln" d="M 1299.96,853.87 L 1285.55,844.57"/>
<path class="ln" d="M 1227.48,876.78 L 1227.48,902.81 L 1239.77,910.04 L 1239.77,938.24"/>
<path class="ln" d="M 1260.01,896.3 L 1260.01,921.61 L 1246.28,914.38 L 1246.28,932.45"/>
<path class="ln" d="M 1227.48,877.5 L 1233.98,881.84"/>
<path class="ln" d="M 1251.34,890.23 L 1260.01,896.3"/>
<path class="ln" style="fill:#fff" d="M 1193.49,978.01 L 1225.31,960.22 L 1225.31,938.24 Q 1228.2,925.95 1236.88,926.67 L 1239.04,928.4 Q 1245.55,929.56 1252.78,932.45 L 1260.01,938.24 L 1260.01,969.33 L 1210.85,996.81 L 1193.49,987.41 Z"/>
<path class="ln" d="M 1193.49,978.01 L 1210.85,987.41 L 1210.85,996.81 M 1210.85,987.41 L 1241.21,970.05 L 1237.6,967.16 L 1237.6,946.91 Q 1238.32,936.79 1242.66,933.9 Q 1247,931.73 1252.78,932.45"/>
<path class="ln" d="M 1237.6,946.91 L 1225.31,939.68 M 1225.31,960.22 L 1231.09,961.66 L 1237.6,958.48 M 1241.21,970.05 L 1241.21,945.47 Q 1242.66,938.24 1248.44,934.62 M 1231.09,961.66 L 1231.09,941.13 Q 1231.81,934.62 1236.88,932.16"/>
<ellipse class="ln" cx="1209.4" cy="978.01" rx="6.36" ry="3.47" transform="rotate(-25 1209.4 978.01)"/>
<ellipse class="ln" cx="1225.74" cy="968.61" rx="6.36" ry="3.47" transform="rotate(-25 1225.74 968.61)"/>
<ellipse class="ln" cx="1238.32" cy="938.96" rx="1.74" ry="2.89" transform="rotate(20 1238.32 938.96)"/>
<ellipse class="ln" cx="1251.05" cy="945.47" rx="2.02" ry="3.18" transform="rotate(20 1251.05 945.47)"/>
<path class="ln" style="fill:#fff" d="M1196.55,917.08 L1217.52,928.93 A1.17,2.6 29.49 0 0 1220.08,924.4 L1199.11,912.54 A1.17,2.6 29.49 0 0 1196.55,917.08 Z"/>
<ellipse class="ln" cx="1218.8" cy="926.67" rx="1.17" ry="2.6" transform="rotate(29.49 1218.8 926.67)"/>
<path class="ln" d="M1213.32,926.56 A1.17,2.6 29.49 0 1 1215.89,922.03"/>
<path class="ln" d="M1214.79,927.39 A1.17,2.6 29.49 0 1 1217.35,922.86"/>
<path class="ln" d="M1216.26,928.22 A1.17,2.6 29.49 0 1 1218.82,923.69"/>
<ellipse class="ln" style="fill:#fff" cx="1196.38" cy="914.38" rx="3.47" ry="5.21" transform="rotate(30 1196.38 914.38)"/>
<ellipse class="ln" cx="1197.54" cy="914.81" rx="2.31" ry="4.05" transform="rotate(30 1197.54 914.81)"/>
<path class="ln" d="M 1219.52,927.39 L 1228.2,932.74"/>
<text class="lb" x="1185.04" y="892.98">1</text>
<path class="ln" d="M 1193.49,894.13 L 1198.99,909.6"/>
<use href="#screw" transform="translate(1179.46 919.44)"/>
<text class="lb" x="1156.55" y="912.22">26</text>
<path class="ln" d="M 1171.51,913.65 L 1176.14,919.73"/>
<use href="#wash2" transform="translate(1180.19 949.81)"/>
<use href="#wash2" transform="translate(1180.19 962.82)"/>
<text class="lb" x="1153.22" y="940.27">27</text>
<path class="ln" d="M 1169.2,941.85 L 1176.14,951.25"/>
<text class="lb" x="1156.12" y="986.26">28</text>
<path class="ln" d="M 1171.08,972.94 L 1173.97,966.44"/>
<path class="ln" d="M 1180.19,966 L 1180.19,975.11 L 1208.68,959.64 L 1208.68,977.28"/>
<path class="ln" d="M 1252.78,946.63 L 1269.41,956.31"/>
<ellipse class="ln" style="fill:#fff" cx="1272.31" cy="958.19" rx="3.76" ry="5.21" transform="rotate(30 1272.31 958.19)"/>
<ellipse class="ln" cx="1272.31" cy="958.19" rx="1.16" ry="2.02" transform="rotate(30 1272.31 958.19)"/>
<text class="lb" x="1284.1" y="945.05">3</text>
<path class="ln" d="M 1281.71,945.47 L 1275.63,952.7"/>
<use href="#hexnut" transform="translate(1283.87 964.99) scale(1.1)"/>
<text class="lb" x="1297.84" y="962.4">2</text>
<path class="ln" d="M 1296.17,959.64 L 1289.23,962.1"/>
<text class="lb" x="1186.68" y="1019.8">25</text>
<path class="ln" d="M 1196.48,1004 L 1199.26,992.39"/>
</svg>
</body></html>
